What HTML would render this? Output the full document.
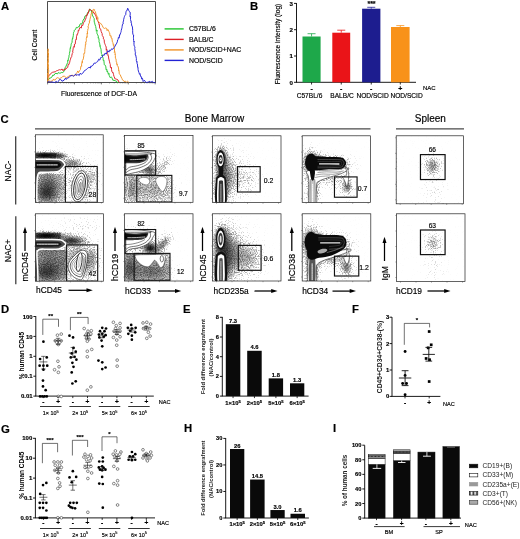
<!DOCTYPE html>
<html><head><meta charset="utf-8"><title>Figure</title>
<style>
html,body{margin:0;padding:0;background:#fff;}
svg{display:block;font-family:'Liberation Sans', Arial, sans-serif;}
text{stroke:#000;stroke-width:0.16px;}
</style></head><body>
<svg width="520" height="539" viewBox="0 0 520 539">
<rect width="520" height="539" fill="#fff"/>
<text x="1" y="9.5" font-size="11.3" text-anchor="start" font-weight="bold" fill="#000">A</text>
<rect x="47.6" y="1.6" width="107.8" height="81" fill="#fff" stroke="#222" stroke-width="0.8"/>
<path d="M47.62 80.11 L49.23 78.95 L49.91 77.77 L50.78 77.98 L51.91 76.97 L52.93 74.94 L53.85 75.47 L54.95 73.72 L55.87 73.35 L57.53 73.87 L58.27 72.57 L59.62 73.16 L61.08 72.93 L61.85 72.21 L62.76 72.74 L64.23 70.84 L64.58 70.67 L64.96 67.53 L65.93 66.82 L66.27 65.31 L66.61 65.43 L66.9 64.01 L67.69 62.72 L67.71 60.33 L68.07 60.9 L68.4 58.72 L68.42 57.95 L68.91 57.74 L69.04 55.05 L69.47 54.67 L69.28 54.08 L69.38 53.62 L70.03 50.9 L70.06 48.99 L70.4 47.52 L70.56 48.38 L70.59 47.53 L71 45.87 L71.15 44.17 L71.41 43.23 L72.04 42.79 L72.13 40.61 L72.45 38.3 L72.94 38.78 L72.74 38.1 L73.29 35.73 L73.44 33.56 L73.48 32.8 L74.22 31.34 L74.15 30.38 L74.62 30.25 L75.74 29.08 L76.31 27.34 L77.48 27.78 L78.08 26.77 L79.25 26.73 L79.86 24.3 L81.11 23.6 L81.53 24.33 L82.69 22.13 L83.08 20.07 L83.84 19.07 L84.26 18.9 L84.94 16.11 L85.62 15.97 L86.15 15.18 L86.86 15.39 L87.39 13.13 L87.58 12.53 L88.66 12.11 L89.24 11 L89.62 8.91 L90.31 9.93 L91.25 10.44 L91.92 12.86 L91.95 12.8 L92.35 14.36 L92.6 15.89 L93 16.1 L93.48 17.54 L94.16 18.49 L94.23 20.97 L94.28 22.45 L94.7 22.6 L94.84 24.07 L95.73 26.58 L95.66 26.68 L95.69 26.78 L96.09 28.65 L96.3 31.17 L97.14 30.08 L96.87 32.65 L97.08 33.85 L97.69 34.89 L98.27 36.13 L98.32 38.22 L98.34 37.7 L98.87 38.6 L99.12 40.78 L98.98 41.37 L99.76 43.87 L99.88 45.15 L100.08 46.21 L100.18 45.72 L100.09 47.24 L100.51 47.49 L101.04 49.29 L101.15 51.12 L101.41 53.55 L102.07 54.66 L101.93 55.87 L102.12 54.98 L102.39 56.08 L103.16 58.43 L103.16 60.19 L103.67 60.83 L103.86 60.4 L104.23 63.86 L104.31 64.58 L104.62 65.04 L105.33 65.3 L105.85 66.89 L106.08 69.83 L106.98 69.4 L106.95 71.46 L107.45 70.96 L108.42 74.28 L108.94 73.33 L109.23 75.47 L110.26 77.74 L111.11 76.91 L111.66 77.23 L113.03 80.5 L113.85 80.11 L115.3 80.77 L116.41 81.09 L117.11 82.43 L118.46 82.43" fill="none" stroke="#22c52e" stroke-width="0.95" stroke-linejoin="round"/>
<path d="M47.62 77.79 L48.28 75.94 L49.23 75.47 L50.21 74.06 L51.02 73.41 L52.28 72.36 L52.89 72.28 L53.85 72 L55.28 71.76 L56.44 70.85 L57.33 70.61 L58.13 70.21 L59.62 69.68 L60.55 69.9 L62.13 69.07 L63.08 70.84 L63.98 69.23 L64.96 70.07 L65.86 68.26 L66.97 68.21 L67.69 67.36 L68.12 65.1 L68.31 64.34 L68.85 64.64 L69.41 62.89 L69.58 62.71 L70 60.71 L70.52 59.27 L70.79 57.95 L71.46 56.86 L71.8 56.32 L71.76 55.83 L72.31 53.44 L72.9 52.45 L72.63 52.07 L73.13 48.91 L73.28 47.61 L73.87 46.46 L74.31 47.27 L74.48 44.36 L74.37 44.61 L75.23 44.07 L75.51 41.07 L75.47 40.4 L75.77 39.53 L76.38 39.73 L76.49 36.27 L76.81 36.09 L77.18 34.04 L77.36 34.35 L78.04 32.72 L78.34 30.07 L78.85 30.59 L79.23 29.09 L80.43 27.01 L81.29 28.15 L81.66 25.38 L82.69 25.61 L83.38 23.17 L83.42 22.65 L84.46 21.92 L84.5 21.86 L85.46 18.84 L85.8 18.85 L86.15 17.49 L86.34 15.19 L87.09 15.7 L87.94 12.83 L88.34 13.23 L88.87 10.54 L89.37 9.33 L89.62 9.38 L90.5 9.87 L91.91 10.76 L92.62 11.23 L93.05 11.57 L93.82 13.28 L94.46 13.1 L95.38 15.18 L95.67 15.08 L96.24 16.97 L96.72 19.38 L97.14 19.81 L97.52 20.55 L98.02 21.44 L98.85 23.29 L99.21 25.1 L99.49 24.75 L99.56 27.98 L100.12 28.82 L100.73 29.08 L100.83 29.95 L101.15 31.41 L101.83 33.09 L102.08 33.29 L102.29 35.46 L102.43 35.78 L102.63 35.97 L103.4 37.17 L103.34 38.85 L104.16 39.53 L104.39 42.88 L104.62 43.01 L104.75 43.56 L105.22 44.75 L105.52 45.53 L106.19 46.99 L106.22 50.12 L106.83 49.25 L106.72 50.59 L107.05 50.89 L107.45 53.37 L107.77 53.77 L108.08 55.76 L108.2 55.54 L108.58 56.94 L108.61 57.96 L109.05 59.86 L109.54 61.8 L109.92 63.42 L110.36 64.48 L110.26 64.73 L110.43 67.55 L111.06 67.98 L111.48 67.25 L111.54 69.68 L112.06 71.93 L112.62 72.65 L112.85 72.15 L113.5 74.33 L113.93 76.32 L114.41 76.87 L114.7 78.3 L115 78.95 L115.6 78.9 L116.75 79.32 L118 79.94 L118.78 81.9 L119.62 82.43" fill="none" stroke="#dc1f26" stroke-width="0.95" stroke-linejoin="round"/>
<path d="M47.85 82.43 L47.98 81.62 L47.52 80.08 L48.04 79.78 L47.9 77.8 L47.59 77.08 L47.72 76.13 L47.74 73.13 L47.71 73.79 L48.25 72.66 L47.84 70.82 L48.06 69.62 L48.02 69.26 L47.66 67.76 L47.79 65.22 L47.83 65.72 L47.64 64.07 L47.82 61.5 L48.12 62.04 L47.85 60.89 L47.98 59.29 L47.75 57.99 L47.81 58.02 L48.33 57.09 L48.01 53.26 L48.37 54.33 L47.89 52.14 L48.37 50.32 L48.13 49.16 L48.08 48.8 L48.11 48.97 L47.86 52.38 L48.13 53.17 L48.29 54.52 L48.44 53.85 L47.85 55.72 L48.19 55.54 L48.08 57.94 L48.12 58.24 L48.48 59.89 L48.44 60.17 L48.02 63.66 L48.45 65.07 L48.17 66.16 L48.26 65.84 L48.41 68.75 L48.32 68.13 L48.07 69.05 L48.63 69.73 L48.72 71.4 L48.27 72.46 L48.24 74.35 L48.79 75.12 L48.7 77.7 L48.79 78.16 L48.56 80.18 L48.54 80.11 L49.23 81.27 L50.07 81.45 L51.5 81.05 L52.79 80.67 L53.53 78.94 L54.74 80.29 L56.05 78.59 L57.47 77.67 L58.46 77.79 L59.45 78.97 L60.63 77.94 L61.85 77.52 L62.84 76.29 L64.51 76.26 L65.19 76.92 L66.88 77.91 L67.69 76.63 L68.6 76.3 L69.72 75.39 L70.87 75.61 L72.14 75.14 L73.73 75.86 L74.62 75.47 L75.38 75.34 L76.28 73.58 L76.98 72.65 L77.76 70.94 L78.48 72.64 L79.65 70.51 L80.38 69.68 L80.48 69.53 L80.79 66.72 L81.21 65.92 L81.78 66.3 L81.5 64.92 L82.26 61.42 L82.39 62.66 L82.35 60.64 L83.28 58.94 L83.52 58.99 L83.38 58.24 L83.85 55.76 L83.8 53.51 L84.36 53.5 L84.58 53.51 L84.8 51.53 L84.84 49.84 L85.2 47.52 L85.48 46.9 L85.25 46.89 L85.41 44.29 L85.91 44.54 L85.66 41.93 L86.15 41.85 L86.38 40.75 L86.29 39.22 L86.31 38.65 L86.79 36.66 L87.08 37.33 L87.13 35.96 L87.13 32.99 L87.61 33.85 L87.31 30.87 L87.92 30.25 L87.8 28.87 L88.43 28.4 L87.97 26.01 L88.46 25.61 L88.68 24 L88.81 23.8 L89.46 22.96 L89.37 20.99 L89.72 21.12 L89.94 19.54 L90.58 16.72 L90.99 15.76 L90.74 15.16 L91.23 14.02 L91.81 12.09 L92.81 12.16 L93.06 9.55 L93.77 9.38 L94.65 9.74 L94.57 10.7 L95.36 11.63 L96.25 15.12 L96.54 15.18 L97.27 16.98 L97.19 18.7 L97.99 17.78 L97.75 20.5 L98.38 21.43 L98.85 22.13 L99.6 22.65 L100.23 22.95 L101.34 24.13 L102.31 25.61 L103.2 27.65 L104.41 28.45 L105.77 27.93 L106.68 28.46 L107.11 30.68 L107.83 29.46 L108.83 31.29 L109.23 32.57 L109.69 32.87 L110.01 35.99 L111.11 35.8 L111.13 37.95 L112 38.37 L111.96 38.23 L112.36 41.86 L113.07 42.53 L112.9 42.56 L113.4 45.44 L113.73 44.66 L113.85 46.48 L113.88 47.13 L114.41 47.42 L114.52 51.12 L114.29 52.36 L114.79 51.54 L115.31 54.71 L115.02 54.29 L115.38 55.57 L115.36 58.11 L115.93 58.92 L116.15 60.14 L116.15 60.4 L116.32 61.86 L116.64 62.22 L116.73 64.66 L117.48 64.2 L117.29 65.49 L117.92 66.06 L118.51 68.03 L118.8 70.74 L118.46 70.18 L119.04 70.87 L119.29 73.74 L119.62 74.32 L120.25 74.74 L121.12 76.97 L121.93 78.48 L122.12 79.41 L123.08 80.11 L124.09 81.53 L125.3 81.23 L126.33 82.17 L127.52 81.27 L128.85 82.43" fill="none" stroke="#f09226" stroke-width="0.95" stroke-linejoin="round"/>
<path d="M47.62 82.43 L49.09 81.34 L49.91 82.39 L51.57 81.76 L52.25 81.94 L53.75 82.43 L54.57 82.43 L56.27 81.46 L57.54 82.35 L58.46 81.27 L59.47 79.56 L60.55 79.34 L61.98 81.28 L62.99 80.73 L64.2 80.12 L65.58 78 L66.27 79.47 L67.69 77.79 L68.93 77.68 L69.91 76.24 L70.95 75.64 L72.38 75.57 L73.26 76.28 L74.62 75.47 L75.65 73.92 L76.71 75.58 L77.87 74.37 L79.26 75.52 L80.11 73.29 L81.54 74.32 L82.5 73.1 L83.1 72.85 L84.44 70.6 L85.08 70.35 L86.15 69.68 L87.46 68.48 L88.18 67.83 L89.06 67.29 L90.45 68.04 L90.89 65.98 L91.88 66.34 L93.08 65.04 L94.28 62.97 L95.14 63.43 L96.11 62.69 L96.54 62.15 L97.69 61.56 L98.65 59.28 L99.82 60.1 L100.55 57.63 L101.39 57.49 L102.31 56.92 L103.08 55.01 L104.45 55.12 L105.07 53.05 L106.32 54.06 L106.92 52.28 L107.59 50.74 L109.1 52.12 L109.38 50.15 L110.54 50.69 L111.54 48.8 L112.78 49.35 L113.85 47.64 L114.3 47.39 L115.04 46.12 L116.16 43.9 L116.4 43.92 L117.31 41.85 L117.67 39.9 L118.09 39.58 L118.43 37.32 L119.31 37.83 L119.51 34.77 L119.58 35.6 L120.07 34.67 L120.77 32.57 L121.08 31.69 L121.19 30.6 L121.66 28.87 L121.99 27.72 L122.11 26.62 L122.51 24.29 L122.52 24.42 L123.18 24.03 L123.04 22.02 L123.54 20.97 L123.6 19.74 L124.15 17.62 L124.49 16.36 L124.54 16.36 L124.9 15.55 L125.71 14.67 L125.85 12.86 L126 11.73 L126.68 10.55 L126.98 10.63 L127.69 8.22 L128.65 10.37 L129.14 11.18 L129.54 11.7 L130.07 12 L130.26 13.99 L129.91 16.33 L130.64 17.14 L130.44 16.29 L130.51 19.37 L130.8 20.92 L131.15 20.97 L131.07 23.01 L131.77 23.3 L131.48 23.64 L131.69 25.63 L131.76 25.48 L132.44 26.99 L132.58 29.59 L132.67 29.33 L132.66 30.34 L132.71 32.95 L133.01 34.77 L133.4 35.11 L133.64 34.95 L133.46 37.21 L133.53 38.73 L133.59 40.36 L133.95 42.05 L134.22 41.46 L133.96 42.85 L134.01 44.84 L134.3 46.22 L134.95 46.87 L134.87 47.88 L134.56 48.28 L134.81 48.67 L135.15 51.45 L135.61 52.32 L135.29 52.42 L135.29 55.03 L135.77 55.76 L135.86 55.54 L136.05 56.99 L136.4 58.47 L136.33 60.65 L136.71 61.9 L137.23 61.7 L136.87 63.17 L137.4 63.91 L137.7 67.23 L137.53 67.08 L137.98 67.16 L138.08 69.68 L138.41 71.01 L138.9 72.4 L139.54 74.37 L140.09 73.62 L140.26 74.21 L140.49 76.37 L141.3 76.57 L141.54 78.95 L142.5 78.29 L143.14 81.57 L144.38 80.2 L145.33 81.76 L146.15 82.43 L147.08 82.43 L148.32 81.96 L149.88 81.26 L150.92 82.43 L152.16 81.2 L153.05 82.43 L154.2 82.43 L155.38 82.66" fill="none" stroke="#2222d4" stroke-width="0.95" stroke-linejoin="round"/>
<line x1="47.6" y1="82.6" x2="47.6" y2="84.4" stroke="#222" stroke-width="0.6"/>
<line x1="55.7" y1="82.6" x2="55.7" y2="83.6" stroke="#333" stroke-width="0.35"/>
<line x1="60.43" y1="82.6" x2="60.43" y2="83.6" stroke="#333" stroke-width="0.35"/>
<line x1="63.8" y1="82.6" x2="63.8" y2="83.6" stroke="#333" stroke-width="0.35"/>
<line x1="66.4" y1="82.6" x2="66.4" y2="83.6" stroke="#333" stroke-width="0.35"/>
<line x1="68.53" y1="82.6" x2="68.53" y2="83.6" stroke="#333" stroke-width="0.35"/>
<line x1="70.33" y1="82.6" x2="70.33" y2="83.6" stroke="#333" stroke-width="0.35"/>
<line x1="71.89" y1="82.6" x2="71.89" y2="83.6" stroke="#333" stroke-width="0.35"/>
<line x1="73.27" y1="82.6" x2="73.27" y2="83.6" stroke="#333" stroke-width="0.35"/>
<line x1="74.5" y1="82.6" x2="74.5" y2="84.4" stroke="#222" stroke-width="0.6"/>
<line x1="82.6" y1="82.6" x2="82.6" y2="83.6" stroke="#333" stroke-width="0.35"/>
<line x1="87.33" y1="82.6" x2="87.33" y2="83.6" stroke="#333" stroke-width="0.35"/>
<line x1="90.7" y1="82.6" x2="90.7" y2="83.6" stroke="#333" stroke-width="0.35"/>
<line x1="93.3" y1="82.6" x2="93.3" y2="83.6" stroke="#333" stroke-width="0.35"/>
<line x1="95.43" y1="82.6" x2="95.43" y2="83.6" stroke="#333" stroke-width="0.35"/>
<line x1="97.23" y1="82.6" x2="97.23" y2="83.6" stroke="#333" stroke-width="0.35"/>
<line x1="98.79" y1="82.6" x2="98.79" y2="83.6" stroke="#333" stroke-width="0.35"/>
<line x1="100.17" y1="82.6" x2="100.17" y2="83.6" stroke="#333" stroke-width="0.35"/>
<line x1="101.4" y1="82.6" x2="101.4" y2="84.4" stroke="#222" stroke-width="0.6"/>
<line x1="109.5" y1="82.6" x2="109.5" y2="83.6" stroke="#333" stroke-width="0.35"/>
<line x1="114.23" y1="82.6" x2="114.23" y2="83.6" stroke="#333" stroke-width="0.35"/>
<line x1="117.6" y1="82.6" x2="117.6" y2="83.6" stroke="#333" stroke-width="0.35"/>
<line x1="120.2" y1="82.6" x2="120.2" y2="83.6" stroke="#333" stroke-width="0.35"/>
<line x1="122.33" y1="82.6" x2="122.33" y2="83.6" stroke="#333" stroke-width="0.35"/>
<line x1="124.13" y1="82.6" x2="124.13" y2="83.6" stroke="#333" stroke-width="0.35"/>
<line x1="125.69" y1="82.6" x2="125.69" y2="83.6" stroke="#333" stroke-width="0.35"/>
<line x1="127.07" y1="82.6" x2="127.07" y2="83.6" stroke="#333" stroke-width="0.35"/>
<line x1="128.3" y1="82.6" x2="128.3" y2="84.4" stroke="#222" stroke-width="0.6"/>
<line x1="136.4" y1="82.6" x2="136.4" y2="83.6" stroke="#333" stroke-width="0.35"/>
<line x1="141.13" y1="82.6" x2="141.13" y2="83.6" stroke="#333" stroke-width="0.35"/>
<line x1="144.5" y1="82.6" x2="144.5" y2="83.6" stroke="#333" stroke-width="0.35"/>
<line x1="147.1" y1="82.6" x2="147.1" y2="83.6" stroke="#333" stroke-width="0.35"/>
<line x1="149.23" y1="82.6" x2="149.23" y2="83.6" stroke="#333" stroke-width="0.35"/>
<line x1="151.03" y1="82.6" x2="151.03" y2="83.6" stroke="#333" stroke-width="0.35"/>
<line x1="152.59" y1="82.6" x2="152.59" y2="83.6" stroke="#333" stroke-width="0.35"/>
<line x1="153.97" y1="82.6" x2="153.97" y2="83.6" stroke="#333" stroke-width="0.35"/>
<line x1="155.2" y1="82.6" x2="155.2" y2="84.4" stroke="#222" stroke-width="0.6"/>
<text x="34.8" y="45" font-size="6.6" text-anchor="middle" font-weight="normal" fill="#000" transform="rotate(-90 34.8 45)" dy="2.2">Cell Count</text>
<text x="99" y="96.3" font-size="6.8" text-anchor="middle" font-weight="normal" fill="#000">Fluorescence of DCF-DA</text>
<line x1="164.6" y1="28.9" x2="183.7" y2="28.9" stroke="#22c52e" stroke-width="1.4"/>
<text x="189" y="31.3" font-size="6.9" text-anchor="start" font-weight="normal" fill="#000">C57BL/6</text>
<line x1="164.6" y1="39.4" x2="183.7" y2="39.4" stroke="#dc1f26" stroke-width="1.4"/>
<text x="189" y="41.8" font-size="6.9" text-anchor="start" font-weight="normal" fill="#000">BALB/C</text>
<line x1="164.6" y1="49.9" x2="183.7" y2="49.9" stroke="#f09226" stroke-width="1.4"/>
<text x="189" y="52.3" font-size="6.9" text-anchor="start" font-weight="normal" fill="#000">NOD/SCID+NAC</text>
<line x1="164.6" y1="60.4" x2="183.7" y2="60.4" stroke="#2222d4" stroke-width="1.4"/>
<text x="189" y="62.8" font-size="6.9" text-anchor="start" font-weight="normal" fill="#000">NOD/SCID</text>
<text x="250" y="9.5" font-size="11.3" text-anchor="start" font-weight="bold" fill="#000">B</text>
<line x1="296.5" y1="3.1" x2="296.5" y2="82.3" stroke="#000" stroke-width="0.9"/>
<line x1="296.05" y1="82.3" x2="416" y2="82.3" stroke="#000" stroke-width="0.9"/>
<line x1="294" y1="82.3" x2="296.5" y2="82.3" stroke="#000" stroke-width="0.9"/>
<text x="292.9" y="84.5" font-size="6.2" text-anchor="end" font-weight="bold" fill="#000">0</text>
<line x1="294" y1="56" x2="296.5" y2="56" stroke="#000" stroke-width="0.9"/>
<text x="292.9" y="58.2" font-size="6.2" text-anchor="end" font-weight="bold" fill="#000">1</text>
<line x1="294" y1="29.7" x2="296.5" y2="29.7" stroke="#000" stroke-width="0.9"/>
<text x="292.9" y="31.9" font-size="6.2" text-anchor="end" font-weight="bold" fill="#000">2</text>
<line x1="294" y1="3.4" x2="296.5" y2="3.4" stroke="#000" stroke-width="0.9"/>
<text x="292.9" y="5.6" font-size="6.2" text-anchor="end" font-weight="bold" fill="#000">3</text>
<rect x="302.5" y="36.5" width="18.1" height="45.8" fill="#1ea84a" stroke="none" stroke-width="0.8"/>
<line x1="311.55" y1="36.5" x2="311.55" y2="33.7" stroke="#1ea84a" stroke-width="0.8"/>
<line x1="307.55" y1="33.7" x2="315.55" y2="33.7" stroke="#1ea84a" stroke-width="0.8"/>
<line x1="311.55" y1="82.3" x2="311.55" y2="84.5" stroke="#000" stroke-width="0.8"/>
<text x="311.55" y="91.2" font-size="7" text-anchor="middle" font-weight="bold" fill="#000">-</text>
<rect x="332.3" y="32.7" width="17.9" height="49.6" fill="#ea1418" stroke="none" stroke-width="0.8"/>
<line x1="341.25" y1="32.7" x2="341.25" y2="30.2" stroke="#ea1418" stroke-width="0.8"/>
<line x1="337.25" y1="30.2" x2="345.25" y2="30.2" stroke="#ea1418" stroke-width="0.8"/>
<line x1="341.25" y1="82.3" x2="341.25" y2="84.5" stroke="#000" stroke-width="0.8"/>
<text x="341.25" y="91.2" font-size="7" text-anchor="middle" font-weight="bold" fill="#000">-</text>
<rect x="362.1" y="8.7" width="18.3" height="73.6" fill="#1d1d8f" stroke="none" stroke-width="0.8"/>
<line x1="371.25" y1="8.7" x2="371.25" y2="7.3" stroke="#1d1d8f" stroke-width="0.8"/>
<line x1="367.25" y1="7.3" x2="375.25" y2="7.3" stroke="#1d1d8f" stroke-width="0.8"/>
<line x1="371.25" y1="82.3" x2="371.25" y2="84.5" stroke="#000" stroke-width="0.8"/>
<text x="371.25" y="91.2" font-size="7" text-anchor="middle" font-weight="bold" fill="#000">-</text>
<rect x="391" y="27" width="18.6" height="55.3" fill="#f8921a" stroke="none" stroke-width="0.8"/>
<line x1="400.3" y1="27" x2="400.3" y2="25.6" stroke="#f8921a" stroke-width="0.8"/>
<line x1="396.3" y1="25.6" x2="404.3" y2="25.6" stroke="#f8921a" stroke-width="0.8"/>
<line x1="400.3" y1="82.3" x2="400.3" y2="84.5" stroke="#000" stroke-width="0.8"/>
<text x="400.3" y="91.4" font-size="7" text-anchor="middle" font-weight="bold" fill="#000">+</text>
<text x="309.5" y="97.8" font-size="6.6" text-anchor="middle" font-weight="normal" fill="#000">C57BL/6</text>
<text x="342" y="97.8" font-size="6.6" text-anchor="middle" font-weight="normal" fill="#000">BALB/C</text>
<text x="372.6" y="97.8" font-size="6.6" text-anchor="middle" font-weight="normal" fill="#000">NOD/SCID</text>
<text x="406.6" y="97.8" font-size="6.6" text-anchor="middle" font-weight="normal" fill="#000">NOD/SCID</text>
<text x="423" y="90.2" font-size="6" text-anchor="start" font-weight="normal" fill="#000">NAC</text>
<text x="371.5" y="6.2" font-size="7" text-anchor="middle" font-weight="bold" fill="#000">***</text>
<text x="277.5" y="44" font-size="6.6" text-anchor="middle" font-weight="normal" fill="#000" transform="rotate(-90 277.5 44)" dy="2.2">Fluorescence intensity (log)</text>
<text x="0.5" y="122.5" font-size="11.3" text-anchor="start" font-weight="bold" fill="#000">C</text>
<line x1="35" y1="128.8" x2="370.5" y2="128.8" stroke="#4a4a4a" stroke-width="1.25"/>
<line x1="396" y1="128.8" x2="464" y2="128.8" stroke="#4a4a4a" stroke-width="1.25"/>
<text x="214.5" y="121.6" font-size="10" text-anchor="middle" font-weight="normal" fill="#000">Bone Marrow</text>
<text x="430.3" y="122.2" font-size="10" text-anchor="middle" font-weight="normal" fill="#000">Spleen</text>
<line x1="15.7" y1="136.2" x2="15.7" y2="204.5" stroke="#3a3a3a" stroke-width="1.25"/>
<line x1="15.8" y1="216.3" x2="15.8" y2="284.2" stroke="#3a3a3a" stroke-width="1.25"/>
<text x="8.6" y="171" font-size="8.5" text-anchor="middle" font-weight="normal" fill="#000" transform="rotate(-90 8.6 171)" dy="2.9">NAC-</text>
<text x="8.3" y="250.8" font-size="8.5" text-anchor="middle" font-weight="normal" fill="#000" transform="rotate(-90 8.3 250.8)" dy="2.9">NAC+</text>
<defs><radialGradient id="rg"><stop offset="0" stop-color="#000" stop-opacity="1"/><stop offset="0.2" stop-color="#000" stop-opacity="0.87"/><stop offset="0.4" stop-color="#000" stop-opacity="0.58"/><stop offset="0.6" stop-color="#000" stop-opacity="0.3"/><stop offset="0.8" stop-color="#000" stop-opacity="0.11"/><stop offset="1" stop-color="#000" stop-opacity="0"/></radialGradient></defs>
<clipPath id="c1"><rect x="35.4" y="134.8" width="67.8" height="67.6"/></clipPath>
<rect x="35.4" y="134.8" width="67.8" height="67.6" fill="#fff" stroke="none" stroke-width="0.8"/>
<g clip-path="url(#c1)">
<filter id="spk1" filterUnits="userSpaceOnUse" x="35.4" y="134.8" width="67.8" height="67.6" color-interpolation-filters="sRGB"><feTurbulence type="fractalNoise" baseFrequency="0.87" numOctaves="2" seed="1" result="n"/><feColorMatrix in="n" type="matrix" values="0 0 0 0 0 0 0 0 0 0 0 0 0 0 0 2.6 0 0 0 -0.78" result="na"/><feComposite in="SourceGraphic" in2="na" operator="arithmetic" k1="0.8" k2="1.0" k3="-0.8" k4="0"/><feGaussianBlur stdDeviation="0.6"/></filter>
<g filter="url(#spk1)">
<rect x="35.4" y="134.8" width="67.8" height="67.6" fill="#000" stroke="none" stroke-width="0.8" opacity="0"/>
<rect x="35.38" y="134.62" width="67.69" height="67.69" fill="#000" opacity="0.02"/>
<rect x="35.85" y="173.85" width="29.54" height="28.46" fill="#000" opacity="0.3"/>
<rect x="35.85" y="152.77" width="20.31" height="6.15" fill="#000" opacity="0.5"/>
<ellipse cx="59.23" cy="155.85" rx="12" ry="5.6" transform="rotate(0 59.23 155.85)" fill="url(#rg)" opacity="0.6"/>
<ellipse cx="45.38" cy="155.38" rx="30" ry="6" transform="rotate(0 45.38 155.38)" fill="url(#rg)" opacity="1.2"/>
<ellipse cx="48.46" cy="166.15" rx="32" ry="22" transform="rotate(0 48.46 166.15)" fill="url(#rg)" opacity="0.4"/>
<ellipse cx="48.46" cy="182.31" rx="24" ry="18" transform="rotate(0 48.46 182.31)" fill="url(#rg)" opacity="0.45"/>
<ellipse cx="46.92" cy="193.08" rx="24" ry="20" transform="rotate(0 46.92 193.08)" fill="url(#rg)" opacity="0.8"/>
<ellipse cx="71.54" cy="163.08" rx="20" ry="10" transform="rotate(0 71.54 163.08)" fill="url(#rg)" opacity="0.6"/>
<ellipse cx="81.54" cy="185.38" rx="24" ry="34" transform="rotate(0 81.54 185.38)" fill="url(#rg)" opacity="0.6"/>
<ellipse cx="93.08" cy="174.62" rx="10" ry="16" transform="rotate(0 93.08 174.62)" fill="url(#rg)" opacity="0.3"/>
</g>
<path d="M20.77 159.23 C22.56 150.77 27.44 159.23 31.54 159.23 C35.64 159.23 40.9 159.18 45.38 159.23 C49.87 159.28 55.59 159.18 58.46 159.54 C61.33 159.9 61.56 160.51 62.62 161.38 C63.67 162.26 64.87 163.59 64.77 164.77 C64.67 165.95 63.13 167.33 62 168.46 C60.87 169.59 60.26 170.92 58 171.54 C55.74 172.15 51.44 172.03 48.46 172.15 C45.49 172.28 41.9 171.95 40.15 172.31 C38.41 172.67 38.51 172.9 38 174.31 C37.49 175.72 37.28 176.74 37.08 180.77 C36.87 184.79 36.82 193.59 36.77 198.46 C36.72 203.33 39.44 208.08 36.77 210 C34.1 211.92 23.44 218.46 20.77 210 C18.1 201.54 18.97 167.69 20.77 159.23 Z" fill="#4a4a4a" stroke="#fff" stroke-width="1.5"/>
<path d="M20.77 161.69 C22.56 160.62 27.44 161.69 31.54 161.69 C35.64 161.69 41.13 161.67 45.38 161.69 C49.64 161.72 54.64 161.62 57.08 161.85 C59.51 162.08 59.31 162.59 60 163.08 C60.69 163.56 61.23 164.18 61.23 164.77 C61.23 165.36 60.69 166.08 60 166.62 C59.31 167.15 59.51 167.74 57.08 168 C54.64 168.26 49.64 168.13 45.38 168.15 C41.13 168.18 35.64 168.15 31.54 168.15 C27.44 168.15 22.56 169.23 20.77 168.15 C18.97 167.08 18.97 162.77 20.77 161.69 Z" fill="#0c0c0c" stroke="none" stroke-width="0.5"/>
<path d="M36.77 164.92 C40.26 164.92 54.21 164.92 57.69 164.92" fill="none" stroke="#fff" stroke-width="1"/>
<ellipse cx="79.54" cy="186.31" rx="7.69" ry="15.85" transform="rotate(10 79.54 186.31)" fill="#fff" stroke="#000" stroke-width="0.55"/>
<ellipse cx="79.54" cy="186.31" rx="5.54" ry="13.54" transform="rotate(10 79.54 186.31)" fill="#fff" stroke="#000" stroke-width="0.8"/>
<ellipse cx="79.63" cy="186.69" rx="4" ry="10.77" transform="rotate(10 79.63 186.69)" fill="#fff" stroke="#2a2a2a" stroke-width="0.5"/>
<ellipse cx="79.72" cy="187.08" rx="2.46" ry="8" transform="rotate(10 79.72 187.08)" fill="#fff" stroke="#2a2a2a" stroke-width="0.5"/>
<ellipse cx="79.82" cy="187.46" rx="0.92" ry="5.23" transform="rotate(10 79.82 187.46)" fill="#ddd" stroke="#2a2a2a" stroke-width="0.5"/>
<rect x="65.38" y="166.46" width="31.85" height="35.85" fill="none" stroke="#111" stroke-width="1.1"/>
<text x="92.46" y="196.95" font-size="6.9" text-anchor="middle" font-weight="normal" fill="#000">28</text>
</g>
<rect x="35.4" y="134.8" width="67.8" height="67.6" fill="none" stroke="#222" stroke-width="0.7"/>
<line x1="39.4" y1="202.4" x2="39.4" y2="203.6" stroke="#333" stroke-width="0.4"/>
<line x1="34.2" y1="198.4" x2="35.4" y2="198.4" stroke="#333" stroke-width="0.4"/>
<line x1="54.9" y1="202.4" x2="54.9" y2="203.6" stroke="#333" stroke-width="0.4"/>
<line x1="34.2" y1="182.9" x2="35.4" y2="182.9" stroke="#333" stroke-width="0.4"/>
<line x1="70.4" y1="202.4" x2="70.4" y2="203.6" stroke="#333" stroke-width="0.4"/>
<line x1="34.2" y1="167.4" x2="35.4" y2="167.4" stroke="#333" stroke-width="0.4"/>
<line x1="85.9" y1="202.4" x2="85.9" y2="203.6" stroke="#333" stroke-width="0.4"/>
<line x1="34.2" y1="151.9" x2="35.4" y2="151.9" stroke="#333" stroke-width="0.4"/>
<line x1="101.4" y1="202.4" x2="101.4" y2="203.6" stroke="#333" stroke-width="0.4"/>
<line x1="34.2" y1="136.4" x2="35.4" y2="136.4" stroke="#333" stroke-width="0.4"/>
<clipPath id="c2"><rect x="35.4" y="213.8" width="68" height="67.4"/></clipPath>
<rect x="35.4" y="213.8" width="68" height="67.4" fill="#fff" stroke="none" stroke-width="0.8"/>
<g clip-path="url(#c2)">
<filter id="spk2" filterUnits="userSpaceOnUse" x="35.4" y="213.8" width="68" height="67.4" color-interpolation-filters="sRGB"><feTurbulence type="fractalNoise" baseFrequency="0.87" numOctaves="2" seed="2" result="n"/><feColorMatrix in="n" type="matrix" values="0 0 0 0 0 0 0 0 0 0 0 0 0 0 0 2.6 0 0 0 -0.78" result="na"/><feComposite in="SourceGraphic" in2="na" operator="arithmetic" k1="0.8" k2="1.0" k3="-0.8" k4="0"/><feGaussianBlur stdDeviation="0.6"/></filter>
<g filter="url(#spk2)">
<rect x="35.4" y="213.8" width="68" height="67.4" fill="#000" stroke="none" stroke-width="0.8" opacity="0"/>
<rect x="35.38" y="213.85" width="68" height="67.23" fill="#000" opacity="0.03"/>
<rect x="35.85" y="249.85" width="30.46" height="31.23" fill="#000" opacity="0.42"/>
<rect x="35.85" y="232.62" width="24.92" height="6.62" fill="#000" opacity="0.5"/>
<ellipse cx="46.15" cy="235.69" rx="32" ry="7.2" transform="rotate(0 46.15 235.69)" fill="url(#rg)" opacity="1.2"/>
<ellipse cx="71.54" cy="240.62" rx="24" ry="8.8" transform="rotate(0 71.54 240.62)" fill="url(#rg)" opacity="0.85"/>
<ellipse cx="50" cy="246.46" rx="34" ry="20" transform="rotate(0 50 246.46)" fill="url(#rg)" opacity="0.4"/>
<ellipse cx="50" cy="261.85" rx="32" ry="22" transform="rotate(0 50 261.85)" fill="url(#rg)" opacity="0.4"/>
<ellipse cx="46.92" cy="272.62" rx="30" ry="18" transform="rotate(0 46.92 272.62)" fill="url(#rg)" opacity="0.7"/>
<ellipse cx="80.77" cy="261.85" rx="26" ry="34" transform="rotate(0 80.77 261.85)" fill="url(#rg)" opacity="0.75"/>
<ellipse cx="93.08" cy="257.23" rx="10" ry="22" transform="rotate(0 93.08 257.23)" fill="url(#rg)" opacity="0.35"/>
<ellipse cx="80.77" cy="226.46" rx="32" ry="16" transform="rotate(0 80.77 226.46)" fill="url(#rg)" opacity="0.15"/>
</g>
<path d="M20.77 239.54 C22.56 231.46 27.44 239.54 31.54 239.54 C35.64 239.54 40.77 239.51 45.38 239.54 C50 239.56 56.28 239.41 59.23 239.69 C62.18 239.97 61.97 240.49 63.08 241.23 C64.18 241.97 65.87 243.18 65.85 244.15 C65.82 245.13 64.1 246.28 62.92 247.08 C61.74 247.87 61.18 248.56 58.77 248.92 C56.36 249.28 51.56 249.18 48.46 249.23 C45.36 249.28 41.95 248.92 40.15 249.23 C38.36 249.54 38.23 250.26 37.69 251.08 C37.15 251.9 37.08 248 36.92 254.15 C36.77 260.31 39.46 282.36 36.77 288 C34.08 293.64 23.44 296.08 20.77 288 C18.1 279.92 18.97 247.62 20.77 239.54 Z" fill="#4a4a4a" stroke="#fff" stroke-width="1.5"/>
<path d="M20.77 241.69 C22.56 240.85 27.44 241.69 31.54 241.69 C35.64 241.69 41.08 241.67 45.38 241.69 C49.69 241.72 54.92 241.64 57.38 241.85 C59.85 242.05 59.46 242.54 60.15 242.92 C60.85 243.31 61.54 243.72 61.54 244.15 C61.54 244.59 60.85 245.13 60.15 245.54 C59.46 245.95 59.85 246.41 57.38 246.62 C54.92 246.82 49.69 246.74 45.38 246.77 C41.08 246.79 35.64 246.77 31.54 246.77 C27.44 246.77 22.56 247.62 20.77 246.77 C18.97 245.92 18.97 242.54 20.77 241.69 Z" fill="#181818" stroke="none" stroke-width="0.5"/>
<path d="M36.77 244.15 C40.38 244.15 54.85 244.15 58.46 244.15" fill="none" stroke="#fff" stroke-width="1"/>
<path d="M84 250.31 C85.33 250.82 87 251.85 87.38 254.46 C87.77 257.08 87 262.28 86.31 266 C85.62 269.72 84.21 274.46 83.23 276.77 C82.26 279.08 82.26 279.97 80.46 279.85 C78.67 279.72 74.49 277.92 72.46 276 C70.44 274.08 68.87 270.62 68.31 268.31 C67.74 266 68.13 264.21 69.08 262.15 C70.03 260.1 72.28 257.79 74 256 C75.72 254.21 77.72 252.33 79.38 251.38 C81.05 250.44 82.67 249.79 84 250.31 Z" fill="#fff" stroke="#000" stroke-width="0.55"/>
<path d="M82.98 253.23 C84.05 253.64 85.38 254.46 85.69 256.55 C86 258.65 85.38 262.81 84.83 265.78 C84.28 268.76 83.15 272.55 82.37 274.4 C81.59 276.25 81.59 276.96 80.15 276.86 C78.72 276.76 75.37 275.32 73.75 273.78 C72.13 272.25 70.88 269.48 70.43 267.63 C69.98 265.78 70.29 264.35 71.05 262.71 C71.81 261.07 73.61 259.22 74.98 257.78 C76.36 256.35 77.96 254.85 79.29 254.09 C80.63 253.33 81.92 252.82 82.98 253.23 Z" fill="#fff" stroke="#000" stroke-width="0.65"/>
<path d="M82.17 255.57 C83.03 255.9 84.09 256.55 84.34 258.23 C84.58 259.9 84.09 263.23 83.65 265.61 C83.21 267.99 82.3 271.03 81.68 272.5 C81.06 273.98 81.06 274.56 79.91 274.47 C78.76 274.39 76.08 273.24 74.79 272.01 C73.49 270.78 72.49 268.57 72.13 267.09 C71.77 265.61 72.01 264.46 72.62 263.15 C73.23 261.84 74.67 260.36 75.77 259.21 C76.87 258.06 78.15 256.87 79.22 256.26 C80.29 255.65 81.32 255.24 82.17 255.57 Z" fill="#fff" stroke="#333" stroke-width="0.45"/>
<path d="M81.82 257.29 C82.46 257.54 83.26 258.03 83.45 259.29 C83.63 260.54 83.26 263.04 82.93 264.82 C82.6 266.61 81.92 268.89 81.45 269.99 C80.98 271.1 80.98 271.53 80.12 271.47 C79.26 271.41 77.26 270.55 76.28 269.62 C75.31 268.7 74.56 267.04 74.29 265.93 C74.02 264.82 74.2 263.96 74.66 262.98 C75.11 261.99 76.2 260.89 77.02 260.02 C77.85 259.16 78.81 258.26 79.61 257.81 C80.41 257.35 81.18 257.05 81.82 257.29 Z" fill="#fff" stroke="#333" stroke-width="0.45"/>
<ellipse cx="79.23" cy="262.15" rx="2.62" ry="9.54" transform="rotate(8 79.23 262.15)" fill="#fff" stroke="#111" stroke-width="0.8"/>
<ellipse cx="79.23" cy="262.15" rx="0.77" ry="5.38" transform="rotate(8 79.23 262.15)" fill="#fff" stroke="#555" stroke-width="0.3"/>
<rect x="66.62" y="244.92" width="31.08" height="36.15" fill="none" stroke="#111" stroke-width="1.1"/>
<text x="92.46" y="276.33" font-size="6.9" text-anchor="middle" font-weight="normal" fill="#000">42</text>
</g>
<rect x="35.4" y="213.8" width="68" height="67.4" fill="none" stroke="#222" stroke-width="0.7"/>
<line x1="39.4" y1="281.2" x2="39.4" y2="282.4" stroke="#333" stroke-width="0.4"/>
<line x1="34.2" y1="277.2" x2="35.4" y2="277.2" stroke="#333" stroke-width="0.4"/>
<line x1="54.9" y1="281.2" x2="54.9" y2="282.4" stroke="#333" stroke-width="0.4"/>
<line x1="34.2" y1="261.7" x2="35.4" y2="261.7" stroke="#333" stroke-width="0.4"/>
<line x1="70.4" y1="281.2" x2="70.4" y2="282.4" stroke="#333" stroke-width="0.4"/>
<line x1="34.2" y1="246.2" x2="35.4" y2="246.2" stroke="#333" stroke-width="0.4"/>
<line x1="85.9" y1="281.2" x2="85.9" y2="282.4" stroke="#333" stroke-width="0.4"/>
<line x1="34.2" y1="230.7" x2="35.4" y2="230.7" stroke="#333" stroke-width="0.4"/>
<line x1="101.4" y1="281.2" x2="101.4" y2="282.4" stroke="#333" stroke-width="0.4"/>
<line x1="34.2" y1="215.2" x2="35.4" y2="215.2" stroke="#333" stroke-width="0.4"/>
<clipPath id="c3"><rect x="124.5" y="135.4" width="68.5" height="66.9"/></clipPath>
<rect x="124.5" y="135.4" width="68.5" height="66.9" fill="#fff" stroke="none" stroke-width="0.8"/>
<g clip-path="url(#c3)">
<filter id="spk3" filterUnits="userSpaceOnUse" x="124.5" y="135.4" width="68.5" height="66.9" color-interpolation-filters="sRGB"><feTurbulence type="fractalNoise" baseFrequency="0.87" numOctaves="2" seed="3" result="n"/><feColorMatrix in="n" type="matrix" values="0 0 0 0 0 0 0 0 0 0 0 0 0 0 0 2.6 0 0 0 -0.78" result="na"/><feComposite in="SourceGraphic" in2="na" operator="arithmetic" k1="0.8" k2="1.0" k3="-0.8" k4="0"/><feGaussianBlur stdDeviation="0.6"/></filter>
<g filter="url(#spk3)">
<rect x="124.5" y="135.4" width="68.5" height="66.9" fill="#000" stroke="none" stroke-width="0.8" opacity="0"/>
<rect x="124.46" y="135.38" width="68.46" height="66.92" fill="#000" opacity="0.01"/>
<rect x="124.46" y="175.38" width="47.38" height="26.92" fill="#000" opacity="0.3"/>
<ellipse cx="149.54" cy="170.31" rx="12.8" ry="9.6" transform="rotate(0 149.54 170.31)" fill="url(#rg)" opacity="0.72"/>
<ellipse cx="130.31" cy="188.46" rx="18" ry="24" transform="rotate(0 130.31 188.46)" fill="url(#rg)" opacity="0.4"/>
<ellipse cx="153.38" cy="189.23" rx="36" ry="22" transform="rotate(0 153.38 189.23)" fill="url(#rg)" opacity="0.35"/>
<ellipse cx="164.15" cy="165.38" rx="8.8" ry="20" transform="rotate(35 164.15 165.38)" fill="url(#rg)" opacity="0.42"/>
<ellipse cx="138" cy="163.08" rx="32" ry="22" transform="rotate(0 138 163.08)" fill="url(#rg)" opacity="0.5"/>
</g>
<path d="M121.08 153.08 C126.41 149.49 147.54 152.31 153.08 153.38 C158.62 154.46 155 157.36 154.31 159.54 C153.62 161.72 151.23 164.54 148.92 166.46 C146.62 168.38 143.41 169.92 140.46 171.08 C137.51 172.23 133.54 172.82 131.23 173.38 C128.92 173.95 128.31 174.21 126.62 174.46 C124.92 174.72 122 178.49 121.08 174.92 C120.15 171.36 115.74 156.67 121.08 153.08 Z" fill="#fff" stroke="#000" stroke-width="0.55"/>
<path d="M121.08 154 C125.82 154 144.64 153.95 149.54 154 C154.44 154.05 150.13 153.51 150.46 154.31 C150.79 155.1 152.05 157.13 151.54 158.77 C151.03 160.41 149.49 162.62 147.38 164.15 C145.28 165.69 141.74 167.05 138.92 168 C136.1 168.95 132.59 169.08 130.46 169.85 C128.33 170.62 126.87 172.15 126.15 172.62" fill="none" stroke="#000" stroke-width="0.55"/>
<path d="M147.38 154.62 C147.51 155.18 148.54 156.67 148.15 158 C147.77 159.33 146.87 161.33 145.08 162.62 C143.28 163.9 139.95 164.92 137.38 165.69 C134.82 166.46 131.62 166.46 129.69 167.23 C127.77 168 126.49 169.79 125.85 170.31" fill="none" stroke="#000" stroke-width="0.55"/>
<path d="M121.08 154.77 C123.64 153.64 132.15 155.31 136.46 155.23 C140.77 155.15 145.05 153.95 146.92 154.31 C148.79 154.67 147.95 156.31 147.69 157.38 C147.44 158.46 146.74 159.85 145.38 160.77 C144.03 161.69 142.05 162.51 139.54 162.92 C137.03 163.33 133.38 163.38 130.31 163.23 C127.23 163.08 122.62 163.41 121.08 162 C119.54 160.59 118.51 155.9 121.08 154.77 Z" fill="#3a3a3a" stroke="none" stroke-width="0.5"/>
<path d="M121.08 155.85 C123.64 155.13 132.36 156.69 136.46 156.62 C140.56 156.54 144.08 155.18 145.69 155.38 C147.31 155.59 146.54 157.05 146.15 157.85 C145.77 158.64 145 159.54 143.38 160.15 C141.77 160.77 140.18 161.41 136.46 161.54 C132.74 161.67 123.64 161.87 121.08 160.92 C118.51 159.97 118.51 156.56 121.08 155.85 Z" fill="#0a0a0a" stroke="none" stroke-width="0.5"/>
<path d="M129.69 159.69 C130.82 159.67 133.9 159.67 136.46 159.54 C139.03 159.41 143.64 159.03 145.08 158.92" fill="none" stroke="#fff" stroke-width="0.7"/>
<path d="M125.69 154.62 C125.69 158 125.69 171.54 125.69 174.92" fill="none" stroke="#000" stroke-width="0.9"/>
<path d="M138.77 179.54 C138.97 178.56 141.08 177.59 142.62 177.38 C144.15 177.18 146.82 177.54 148 178.31 C149.18 179.08 149.87 180.9 149.69 182 C149.51 183.1 148.31 184.72 146.92 184.92 C145.54 185.13 142.74 184.13 141.38 183.23 C140.03 182.33 138.56 180.51 138.77 179.54 Z" fill="#fff" stroke="#222" stroke-width="0.45"/>
<path d="M155.85 179.54 C156.26 178.46 157.38 177.23 158.77 176.77 C160.15 176.31 162.79 176.21 164.15 176.77 C165.51 177.33 166.64 178.46 166.92 180.15 C167.21 181.85 166.56 185.03 165.85 186.92 C165.13 188.82 163.77 191.41 162.62 191.54 C161.46 191.67 159.97 189.08 158.92 187.69 C157.87 186.31 156.82 184.59 156.31 183.23 C155.79 181.87 155.44 180.62 155.85 179.54 Z" fill="#fff" stroke="#222" stroke-width="0.45"/>
<path d="M127.23 176.15 C127.49 177.44 128.77 180.77 128.77 183.85 C128.77 186.92 127.1 191.67 127.23 194.62 C127.36 197.56 129.15 200.38 129.54 201.54" fill="none" stroke="#fff" stroke-width="0.8"/>
<rect x="124.46" y="150.77" width="31.23" height="24.31" fill="none" stroke="#111" stroke-width="1.1"/>
<rect x="136.77" y="175.38" width="35.08" height="26.62" fill="none" stroke="#111" stroke-width="1.1"/>
<text x="141.08" y="147.69" font-size="6.4" text-anchor="middle" font-weight="normal" fill="#000">85</text>
<text x="183.38" y="195.69" font-size="6.4" text-anchor="middle" font-weight="normal" fill="#000">9.7</text>
</g>
<rect x="124.5" y="135.4" width="68.5" height="66.9" fill="none" stroke="#222" stroke-width="0.7"/>
<line x1="128.5" y1="202.3" x2="128.5" y2="203.5" stroke="#333" stroke-width="0.4"/>
<line x1="123.3" y1="198.3" x2="124.5" y2="198.3" stroke="#333" stroke-width="0.4"/>
<line x1="144" y1="202.3" x2="144" y2="203.5" stroke="#333" stroke-width="0.4"/>
<line x1="123.3" y1="182.8" x2="124.5" y2="182.8" stroke="#333" stroke-width="0.4"/>
<line x1="159.5" y1="202.3" x2="159.5" y2="203.5" stroke="#333" stroke-width="0.4"/>
<line x1="123.3" y1="167.3" x2="124.5" y2="167.3" stroke="#333" stroke-width="0.4"/>
<line x1="175" y1="202.3" x2="175" y2="203.5" stroke="#333" stroke-width="0.4"/>
<line x1="123.3" y1="151.8" x2="124.5" y2="151.8" stroke="#333" stroke-width="0.4"/>
<line x1="190.5" y1="202.3" x2="190.5" y2="203.5" stroke="#333" stroke-width="0.4"/>
<line x1="123.3" y1="136.3" x2="124.5" y2="136.3" stroke="#333" stroke-width="0.4"/>
<clipPath id="c4"><rect x="124.5" y="213.8" width="68.5" height="67.2"/></clipPath>
<rect x="124.5" y="213.8" width="68.5" height="67.2" fill="#fff" stroke="none" stroke-width="0.8"/>
<g clip-path="url(#c4)">
<filter id="spk4" filterUnits="userSpaceOnUse" x="124.5" y="213.8" width="68.5" height="67.2" color-interpolation-filters="sRGB"><feTurbulence type="fractalNoise" baseFrequency="0.87" numOctaves="2" seed="4" result="n"/><feColorMatrix in="n" type="matrix" values="0 0 0 0 0 0 0 0 0 0 0 0 0 0 0 2.6 0 0 0 -0.78" result="na"/><feComposite in="SourceGraphic" in2="na" operator="arithmetic" k1="0.8" k2="1.0" k3="-0.8" k4="0"/><feGaussianBlur stdDeviation="0.6"/></filter>
<g filter="url(#spk4)">
<rect x="124.5" y="213.8" width="68.5" height="67.2" fill="#000" stroke="none" stroke-width="0.8" opacity="0"/>
<rect x="124.46" y="213.85" width="68.46" height="67.23" fill="#000" opacity="0.01"/>
<rect x="124.46" y="253.69" width="45.54" height="26.92" fill="#000" opacity="0.45"/>
<ellipse cx="150.31" cy="248.31" rx="13.6" ry="10.4" transform="rotate(0 150.31 248.31)" fill="url(#rg)" opacity="0.95"/>
<ellipse cx="129.54" cy="268" rx="16.8" ry="26" transform="rotate(0 129.54 268)" fill="url(#rg)" opacity="0.55"/>
<ellipse cx="151.85" cy="271.08" rx="34" ry="18" transform="rotate(0 151.85 271.08)" fill="url(#rg)" opacity="0.5"/>
<ellipse cx="163.38" cy="244.15" rx="10" ry="22" transform="rotate(35 163.38 244.15)" fill="url(#rg)" opacity="0.62"/>
<ellipse cx="138" cy="241.08" rx="32" ry="22" transform="rotate(0 138 241.08)" fill="url(#rg)" opacity="0.5"/>
</g>
<path d="M121.08 231.38 C126.31 227.74 147.18 230.67 152.46 231.69 C157.74 232.72 153.54 235.54 152.77 237.54 C152 239.54 150.1 242.03 147.85 243.69 C145.59 245.36 142.21 246.62 139.23 247.54 C136.26 248.46 132.18 248.54 130 249.23 C127.82 249.92 127.64 250.97 126.15 251.69 C124.67 252.41 121.92 256.92 121.08 253.54 C120.23 250.15 115.85 235.03 121.08 231.38 Z" fill="#fff" stroke="#000" stroke-width="0.55"/>
<path d="M121.08 232.31 C125.69 232.31 143.95 232.26 148.77 232.31 C153.59 232.36 149.74 231.85 150 232.62 C150.26 233.38 150.97 235.33 150.31 236.92 C149.64 238.51 148.05 240.69 146 242.15 C143.95 243.62 140.72 244.87 138 245.69 C135.28 246.51 131.72 246.44 129.69 247.08 C127.67 247.72 126.49 249.13 125.85 249.54" fill="none" stroke="#000" stroke-width="0.55"/>
<path d="M121.08 244.31 C122.62 244.31 127.23 244.67 130.31 244.31 C133.38 243.95 137.1 242.95 139.54 242.15 C141.97 241.36 144.03 239.97 144.92 239.54" fill="none" stroke="#111" stroke-width="0.5"/>
<path d="M121.08 233.08 C123.64 232.08 132.1 233.62 136.46 233.54 C140.82 233.46 145.36 232.31 147.23 232.62 C149.1 232.92 148.05 234.46 147.69 235.38 C147.33 236.31 146.44 237.41 145.08 238.15 C143.72 238.9 142 239.51 139.54 239.85 C137.08 240.18 133.38 240.21 130.31 240.15 C127.23 240.1 122.62 240.72 121.08 239.54 C119.54 238.36 118.51 234.08 121.08 233.08 Z" fill="#3a3a3a" stroke="none" stroke-width="0.5"/>
<path d="M121.08 234 C123.64 233.38 132.31 234.82 136.46 234.77 C140.62 234.72 144.36 233.54 146 233.69 C147.64 233.85 146.74 235.05 146.31 235.69 C145.87 236.33 145.03 237.05 143.38 237.54 C141.74 238.03 140.18 238.46 136.46 238.62 C132.74 238.77 123.64 239.23 121.08 238.46 C118.51 237.69 118.51 234.62 121.08 234 Z" fill="#0a0a0a" stroke="none" stroke-width="0.5"/>
<path d="M127.38 237.69 C128.9 237.67 133.51 237.67 136.46 237.54 C139.41 237.41 143.64 237.03 145.08 236.92" fill="none" stroke="#fff" stroke-width="0.7"/>
<path d="M125.69 232.62 C125.69 236.1 125.69 250.05 125.69 253.54" fill="none" stroke="#000" stroke-width="0.9"/>
<path d="M136.15 255.08 C138.36 254.59 144.15 254.67 148.77 254.62 C153.38 254.56 161.13 254.08 163.85 254.77 C166.56 255.46 165.13 257.03 165.08 258.77 C165.03 260.51 164.31 263.79 163.54 265.23 C162.77 266.67 161.59 267.9 160.46 267.38 C159.33 266.87 157.77 263.33 156.77 262.15 C155.77 260.97 155.18 260.21 154.46 260.31 C153.74 260.41 153.41 261.72 152.46 262.77 C151.51 263.82 150.28 266.1 148.77 266.62 C147.26 267.13 145.18 266.64 143.38 265.85 C141.59 265.05 139.31 263.23 138 261.85 C136.69 260.46 135.85 258.67 135.54 257.54 C135.23 256.41 133.95 255.56 136.15 255.08 Z" fill="#fff" stroke="#222" stroke-width="0.45"/>
<ellipse cx="161.85" cy="258.77" rx="1.69" ry="3.23" transform="rotate(0 161.85 258.77)" fill="#fff" stroke="#111" stroke-width="0.55"/>
<rect x="124.46" y="229.54" width="31.23" height="24.15" fill="none" stroke="#111" stroke-width="1.1"/>
<rect x="134.15" y="253.38" width="35.85" height="26.92" fill="none" stroke="#111" stroke-width="1.1"/>
<text x="141.08" y="226.46" font-size="6.4" text-anchor="middle" font-weight="normal" fill="#000">82</text>
<text x="180.62" y="273.84" font-size="6.4" text-anchor="middle" font-weight="normal" fill="#000">12</text>
</g>
<rect x="124.5" y="213.8" width="68.5" height="67.2" fill="none" stroke="#222" stroke-width="0.7"/>
<line x1="128.5" y1="281" x2="128.5" y2="282.2" stroke="#333" stroke-width="0.4"/>
<line x1="123.3" y1="277" x2="124.5" y2="277" stroke="#333" stroke-width="0.4"/>
<line x1="144" y1="281" x2="144" y2="282.2" stroke="#333" stroke-width="0.4"/>
<line x1="123.3" y1="261.5" x2="124.5" y2="261.5" stroke="#333" stroke-width="0.4"/>
<line x1="159.5" y1="281" x2="159.5" y2="282.2" stroke="#333" stroke-width="0.4"/>
<line x1="123.3" y1="246" x2="124.5" y2="246" stroke="#333" stroke-width="0.4"/>
<line x1="175" y1="281" x2="175" y2="282.2" stroke="#333" stroke-width="0.4"/>
<line x1="123.3" y1="230.5" x2="124.5" y2="230.5" stroke="#333" stroke-width="0.4"/>
<line x1="190.5" y1="281" x2="190.5" y2="282.2" stroke="#333" stroke-width="0.4"/>
<line x1="123.3" y1="215" x2="124.5" y2="215" stroke="#333" stroke-width="0.4"/>
<clipPath id="c5"><rect x="212.5" y="135.8" width="68.5" height="66.8"/></clipPath>
<rect x="212.5" y="135.8" width="68.5" height="66.8" fill="#fff" stroke="none" stroke-width="0.8"/>
<g clip-path="url(#c5)">
<filter id="spk5" filterUnits="userSpaceOnUse" x="212.5" y="135.8" width="68.5" height="66.8" color-interpolation-filters="sRGB"><feTurbulence type="fractalNoise" baseFrequency="0.87" numOctaves="2" seed="5" result="n"/><feColorMatrix in="n" type="matrix" values="0 0 0 0 0 0 0 0 0 0 0 0 0 0 0 2.6 0 0 0 -0.78" result="na"/><feComposite in="SourceGraphic" in2="na" operator="arithmetic" k1="0.8" k2="1.0" k3="-0.8" k4="0"/><feGaussianBlur stdDeviation="0.6"/></filter>
<g filter="url(#spk5)">
<rect x="212.5" y="135.8" width="68.5" height="66.8" fill="#000" stroke="none" stroke-width="0.8" opacity="0"/>
<rect x="212.46" y="135.85" width="68.46" height="66.77" fill="#000" opacity="0.01"/>
<ellipse cx="220.92" cy="159.23" rx="10.4" ry="20" transform="rotate(0 220.92 159.23)" fill="url(#rg)" opacity="1.2"/>
<ellipse cx="220.92" cy="191.54" rx="11.2" ry="34" transform="rotate(0 220.92 191.54)" fill="url(#rg)" opacity="1.2"/>
<ellipse cx="225.23" cy="176.15" rx="18" ry="44" transform="rotate(0 225.23 176.15)" fill="url(#rg)" opacity="0.55"/>
<ellipse cx="235.23" cy="176.15" rx="28" ry="36" transform="rotate(0 235.23 176.15)" fill="url(#rg)" opacity="0.3"/>
<ellipse cx="249.08" cy="179.23" rx="20" ry="20" transform="rotate(0 249.08 179.23)" fill="url(#rg)" opacity="0.22"/>
</g>
<ellipse cx="220.62" cy="159.23" rx="4.15" ry="9.23" transform="rotate(0 220.62 159.23)" fill="#111" stroke="none" stroke-width="0.5"/>
<path d="M215.85 204.15 C214.15 200.26 215.59 185.44 215.85 180.77 C216.1 176.1 216.54 177.26 217.38 176.15 C218.23 175.05 219.74 174.15 220.92 174.15 C222.1 174.15 223.62 175.05 224.46 176.15 C225.31 177.26 225.74 176.1 226 180.77 C226.26 185.44 227.69 200.26 226 204.15 C224.31 208.05 217.54 208.05 215.85 204.15 Z" fill="#111" stroke="none" stroke-width="0.5"/>
<path d="M218.92 166.92 C219.54 165.38 222.31 165.38 222.92 166.92 C223.54 168.46 223.23 174.62 222.62 176.15 C222 177.69 219.85 177.69 219.23 176.15 C218.62 174.62 218.31 168.46 218.92 166.92 Z" fill="#111" stroke="none" stroke-width="0.5"/>
<ellipse cx="220.62" cy="159.38" rx="2.92" ry="6.92" transform="rotate(0 220.62 159.38)" fill="#fff" stroke="none" stroke-width="0.5"/>
<ellipse cx="220.62" cy="159.38" rx="2" ry="4.46" transform="rotate(0 220.62 159.38)" fill="#222" stroke="none" stroke-width="0.5"/>
<ellipse cx="220.62" cy="159.38" rx="1.15" ry="2.15" transform="rotate(0 220.62 159.38)" fill="#fff" stroke="none" stroke-width="0.5"/>
<ellipse cx="220.62" cy="159.38" rx="0.38" ry="0.62" transform="rotate(0 220.62 159.38)" fill="#333" stroke="none" stroke-width="0.5"/>
<path d="M217.54 204.15 C216.38 200.31 217.33 185.44 217.54 181.08 C217.74 176.72 218.21 178.69 218.77 178 C219.33 177.31 220.21 176.92 220.92 176.92 C221.64 176.92 222.49 177.31 223.08 178 C223.67 178.69 224.23 176.72 224.46 181.08 C224.69 185.44 225.62 200.31 224.46 204.15 C223.31 208 218.69 208 217.54 204.15 Z" fill="#fff" stroke="none" stroke-width="0.5"/>
<path d="M218.92 204.15 C218.23 200.56 218.77 186.51 218.92 182.62 C219.08 178.72 219.49 181.18 219.85 180.77 C220.21 180.36 220.67 180.15 221.08 180.15 C221.49 180.15 221.97 180.36 222.31 180.77 C222.64 181.18 222.95 178.72 223.08 182.62 C223.21 186.51 223.77 200.56 223.08 204.15 C222.38 207.74 219.62 207.74 218.92 204.15 Z" fill="#333" stroke="none" stroke-width="0.5"/>
<path d="M220.92 183.85 C220.92 186.92 220.92 199.23 220.92 202.31" fill="none" stroke="#fff" stroke-width="0.6"/>
<rect x="237.54" y="166.62" width="22.62" height="25.38" fill="none" stroke="#111" stroke-width="1.15"/>
<text x="268.46" y="182.95" font-size="6.9" text-anchor="middle" font-weight="normal" fill="#000">0.2</text>
</g>
<rect x="212.5" y="135.8" width="68.5" height="66.8" fill="none" stroke="#222" stroke-width="0.7"/>
<line x1="216.5" y1="202.6" x2="216.5" y2="203.8" stroke="#333" stroke-width="0.4"/>
<line x1="211.3" y1="198.6" x2="212.5" y2="198.6" stroke="#333" stroke-width="0.4"/>
<line x1="232" y1="202.6" x2="232" y2="203.8" stroke="#333" stroke-width="0.4"/>
<line x1="211.3" y1="183.1" x2="212.5" y2="183.1" stroke="#333" stroke-width="0.4"/>
<line x1="247.5" y1="202.6" x2="247.5" y2="203.8" stroke="#333" stroke-width="0.4"/>
<line x1="211.3" y1="167.6" x2="212.5" y2="167.6" stroke="#333" stroke-width="0.4"/>
<line x1="263" y1="202.6" x2="263" y2="203.8" stroke="#333" stroke-width="0.4"/>
<line x1="211.3" y1="152.1" x2="212.5" y2="152.1" stroke="#333" stroke-width="0.4"/>
<line x1="278.5" y1="202.6" x2="278.5" y2="203.8" stroke="#333" stroke-width="0.4"/>
<line x1="211.3" y1="136.6" x2="212.5" y2="136.6" stroke="#333" stroke-width="0.4"/>
<clipPath id="c6"><rect x="212.5" y="213.8" width="68.5" height="67.2"/></clipPath>
<rect x="212.5" y="213.8" width="68.5" height="67.2" fill="#fff" stroke="none" stroke-width="0.8"/>
<g clip-path="url(#c6)">
<filter id="spk6" filterUnits="userSpaceOnUse" x="212.5" y="213.8" width="68.5" height="67.2" color-interpolation-filters="sRGB"><feTurbulence type="fractalNoise" baseFrequency="0.87" numOctaves="2" seed="6" result="n"/><feColorMatrix in="n" type="matrix" values="0 0 0 0 0 0 0 0 0 0 0 0 0 0 0 2.6 0 0 0 -0.78" result="na"/><feComposite in="SourceGraphic" in2="na" operator="arithmetic" k1="0.8" k2="1.0" k3="-0.8" k4="0"/><feGaussianBlur stdDeviation="0.6"/></filter>
<g filter="url(#spk6)">
<rect x="212.5" y="213.8" width="68.5" height="67.2" fill="#000" stroke="none" stroke-width="0.8" opacity="0"/>
<rect x="212.46" y="213.85" width="68.46" height="67.23" fill="#000" opacity="0.01"/>
<ellipse cx="220.92" cy="238.77" rx="12" ry="22" transform="rotate(0 220.92 238.77)" fill="url(#rg)" opacity="1.2"/>
<ellipse cx="220.92" cy="269.54" rx="12" ry="34" transform="rotate(0 220.92 269.54)" fill="url(#rg)" opacity="1.2"/>
<ellipse cx="226.77" cy="254.15" rx="22" ry="48" transform="rotate(0 226.77 254.15)" fill="url(#rg)" opacity="0.7"/>
<ellipse cx="238.31" cy="255.69" rx="36" ry="40" transform="rotate(0 238.31 255.69)" fill="url(#rg)" opacity="0.42"/>
<ellipse cx="250.62" cy="258.77" rx="22" ry="24" transform="rotate(0 250.62 258.77)" fill="url(#rg)" opacity="0.35"/>
</g>
<ellipse cx="220.62" cy="238.77" rx="4.62" ry="11.08" transform="rotate(0 220.62 238.77)" fill="#111" stroke="none" stroke-width="0.5"/>
<path d="M215.54 282.15 C213.74 278.13 215.23 262.77 215.54 258 C215.85 253.23 216.49 254.59 217.38 253.54 C218.28 252.49 219.74 251.69 220.92 251.69 C222.1 251.69 223.56 252.49 224.46 253.54 C225.36 254.59 226 253.23 226.31 258 C226.62 262.77 228.1 278.13 226.31 282.15 C224.51 286.18 217.33 286.18 215.54 282.15 Z" fill="#111" stroke="none" stroke-width="0.5"/>
<ellipse cx="220.62" cy="239.08" rx="3.23" ry="8.62" transform="rotate(0 220.62 239.08)" fill="#fff" stroke="none" stroke-width="0.5"/>
<ellipse cx="220.62" cy="239.08" rx="2.23" ry="6.31" transform="rotate(0 220.62 239.08)" fill="#3a3a3a" stroke="none" stroke-width="0.5"/>
<ellipse cx="220.62" cy="239.08" rx="0.92" ry="3.69" transform="rotate(0 220.62 239.08)" fill="#ddd" stroke="none" stroke-width="0.5"/>
<path d="M217.69 282.15 C216.59 278.18 217.49 262.77 217.69 258.31 C217.9 253.85 218.36 256.05 218.92 255.38 C219.49 254.72 220.38 254.31 221.08 254.31 C221.77 254.31 222.54 254.72 223.08 255.38 C223.62 256.05 224.1 253.85 224.31 258.31 C224.51 262.77 225.41 278.18 224.31 282.15 C223.21 286.13 218.79 286.13 217.69 282.15 Z" fill="#fff" stroke="none" stroke-width="0.5"/>
<path d="M219.23 282.15 C218.64 278.56 219.08 264.56 219.23 260.62 C219.38 256.67 219.85 258.92 220.15 258.46 C220.46 258 220.77 257.85 221.08 257.85 C221.38 257.85 221.72 258 222 258.46 C222.28 258.92 222.64 256.67 222.77 260.62 C222.9 264.56 223.36 278.56 222.77 282.15 C222.18 285.74 219.82 285.74 219.23 282.15 Z" fill="#555" stroke="none" stroke-width="0.5"/>
<path d="M220.92 261.08 C220.92 264.28 220.92 277.1 220.92 280.31" fill="none" stroke="#fff" stroke-width="0.6"/>
<rect x="238.31" y="245.38" width="22.77" height="24.92" fill="none" stroke="#111" stroke-width="1.15"/>
<text x="268.46" y="260.95" font-size="6.9" text-anchor="middle" font-weight="normal" fill="#000">0.6</text>
</g>
<rect x="212.5" y="213.8" width="68.5" height="67.2" fill="none" stroke="#222" stroke-width="0.7"/>
<line x1="216.5" y1="281" x2="216.5" y2="282.2" stroke="#333" stroke-width="0.4"/>
<line x1="211.3" y1="277" x2="212.5" y2="277" stroke="#333" stroke-width="0.4"/>
<line x1="232" y1="281" x2="232" y2="282.2" stroke="#333" stroke-width="0.4"/>
<line x1="211.3" y1="261.5" x2="212.5" y2="261.5" stroke="#333" stroke-width="0.4"/>
<line x1="247.5" y1="281" x2="247.5" y2="282.2" stroke="#333" stroke-width="0.4"/>
<line x1="211.3" y1="246" x2="212.5" y2="246" stroke="#333" stroke-width="0.4"/>
<line x1="263" y1="281" x2="263" y2="282.2" stroke="#333" stroke-width="0.4"/>
<line x1="211.3" y1="230.5" x2="212.5" y2="230.5" stroke="#333" stroke-width="0.4"/>
<line x1="278.5" y1="281" x2="278.5" y2="282.2" stroke="#333" stroke-width="0.4"/>
<line x1="211.3" y1="215" x2="212.5" y2="215" stroke="#333" stroke-width="0.4"/>
<clipPath id="c7"><rect x="302.2" y="135.8" width="68.4" height="66.8"/></clipPath>
<rect x="302.2" y="135.8" width="68.4" height="66.8" fill="#fff" stroke="none" stroke-width="0.8"/>
<g clip-path="url(#c7)">
<filter id="spk7" filterUnits="userSpaceOnUse" x="302.2" y="135.8" width="68.4" height="66.8" color-interpolation-filters="sRGB"><feTurbulence type="fractalNoise" baseFrequency="0.87" numOctaves="2" seed="7" result="n"/><feColorMatrix in="n" type="matrix" values="0 0 0 0 0 0 0 0 0 0 0 0 0 0 0 2.6 0 0 0 -0.78" result="na"/><feComposite in="SourceGraphic" in2="na" operator="arithmetic" k1="0.8" k2="1.0" k3="-0.8" k4="0"/><feGaussianBlur stdDeviation="0.6"/></filter>
<g filter="url(#spk7)">
<rect x="302.2" y="135.8" width="68.4" height="66.8" fill="#000" stroke="none" stroke-width="0.8" opacity="0"/>
<rect x="302.15" y="135.85" width="68.46" height="66.77" fill="#000" opacity="0.01"/>
<ellipse cx="311.38" cy="163.08" rx="16.8" ry="23.2" transform="rotate(0 311.38 163.08)" fill="url(#rg)" opacity="0.9"/>
<ellipse cx="331.38" cy="163.54" rx="32" ry="14.4" transform="rotate(0 331.38 163.54)" fill="url(#rg)" opacity="0.85"/>
<ellipse cx="312.62" cy="191.54" rx="11.2" ry="30" transform="rotate(0 312.62 191.54)" fill="url(#rg)" opacity="0.75"/>
<ellipse cx="326.77" cy="177.69" rx="32" ry="14" transform="rotate(0 326.77 177.69)" fill="url(#rg)" opacity="0.45"/>
<ellipse cx="347.54" cy="186.15" rx="8" ry="11.2" transform="rotate(0 347.54 186.15)" fill="url(#rg)" opacity="0.6"/>
<ellipse cx="345.23" cy="188.46" rx="18" ry="18" transform="rotate(0 345.23 188.46)" fill="url(#rg)" opacity="0.3"/>
</g>
<path d="M316 168.46 C322.56 167.9 340.92 167.85 346.15 168.15 C351.38 168.46 348.31 169.36 347.38 170.31 C346.46 171.26 342.9 172.9 340.62 173.85 C338.33 174.79 336.26 175.21 333.69 176 C331.13 176.79 327.64 177.77 325.23 178.62 C322.82 179.46 320.67 180.05 319.23 181.08 C317.79 182.1 317.1 180.92 316.62 184.77 C316.13 188.62 317.59 200.92 316.31 204.15 C315.03 207.38 310.15 207.38 308.92 204.15 C307.69 200.92 309.03 189.44 308.92 184.77 C308.82 180.1 308.67 178.36 308.31 176.15 C307.95 173.95 305.49 172.82 306.77 171.54 C308.05 170.26 309.44 169.03 316 168.46 Z" fill="#fff" stroke="#111" stroke-width="0.55"/>
<path d="M319.08 170.62 C320.36 170.56 322.92 170.51 326.77 170.31 C330.62 170.1 339.59 169.54 342.15 169.38" fill="none" stroke="#222" stroke-width="0.45"/>
<path d="M317.54 172.46 C319.08 172.36 323.69 171.9 326.77 171.85 C329.85 171.79 333.18 172.31 336 172.15 C338.82 172 342.41 171.13 343.69 170.92" fill="none" stroke="#222" stroke-width="0.45"/>
<path d="M315.69 174.92 C317.03 174.77 320.82 174.1 323.69 174 C326.56 173.9 330.1 174.51 332.92 174.31 C335.74 174.1 339.33 173.03 340.62 172.77" fill="none" stroke="#333" stroke-width="0.45"/>
<path d="M314.46 177.69 C315.49 177.49 318.05 176.77 320.62 176.46 C323.18 176.15 328.31 175.95 329.85 175.85" fill="none" stroke="#333" stroke-width="0.45"/>
<path d="M310.15 204.15 C309.33 200.77 310 188.05 310.15 183.85 C310.31 179.64 310.41 179.74 311.08 178.92 C311.74 178.1 313.49 178.1 314.15 178.92 C314.82 179.74 314.92 179.64 315.08 183.85 C315.23 188.05 315.9 200.77 315.08 204.15 C314.26 207.54 310.97 207.54 310.15 204.15 Z" fill="#c4c4c4" stroke="#444" stroke-width="0.45"/>
<path d="M312.62 183.85 C312.62 186.92 312.62 199.23 312.62 202.31" fill="none" stroke="#fff" stroke-width="1"/>
<ellipse cx="311.08" cy="162.62" rx="6" ry="9.08" transform="rotate(0 311.08 162.62)" fill="#0a0a0a" stroke="none" stroke-width="0.5"/>
<path d="M310.15 170.31 C310.72 168.77 314.15 168.77 314.77 170.31 C315.38 171.85 314.41 178 313.85 179.54 C313.28 181.08 312 181.08 311.38 179.54 C310.77 178 309.59 171.85 310.15 170.31 Z" fill="#0a0a0a" stroke="none" stroke-width="0.5"/>
<path d="M311.38 157.38 C313.95 155.28 321.9 157.08 326.77 157.08 C331.64 157.08 337.69 157.03 340.62 157.38 C343.54 157.74 343.38 158.31 344.31 159.23 C345.23 160.15 346.15 161.64 346.15 162.92 C346.15 164.21 345.36 165.9 344.31 166.92 C343.26 167.95 342.77 168.67 339.85 169.08 C336.92 169.49 331.51 169.28 326.77 169.38 C322.03 169.49 313.95 171.69 311.38 169.69 C308.82 167.69 308.82 159.49 311.38 157.38 Z" fill="#0a0a0a" stroke="none" stroke-width="0.5"/>
<path d="M319.08 163.85 C322.46 163.87 336 163.97 339.38 164" fill="none" stroke="#e8e8e8" stroke-width="1.3"/>
<path d="M317.54 159.54 C321.26 159.56 335.59 159.41 339.85 159.69 C344.1 159.97 342.38 160.67 343.08 161.23 C343.77 161.79 344 162.44 344 163.08 C344 163.72 343.77 164.38 343.08 165.08 C342.38 165.77 344.1 166.77 339.85 167.23 C335.59 167.69 321.26 167.74 317.54 167.85" fill="none" stroke="#8a8a8a" stroke-width="0.45"/>
<path d="M317.54 161.38 C321.13 161.41 335.08 161.26 339.08 161.54 C343.08 161.82 341.54 162.38 341.54 163.08 C341.54 163.77 343.08 165.15 339.08 165.69 C335.08 166.23 321.13 166.21 317.54 166.31" fill="none" stroke="#666" stroke-width="0.4"/>
<path d="M345.54 166.31 C345.74 165.85 347.46 168.67 348 170.31 C348.54 171.95 348.77 174.03 348.77 176.15 C348.77 178.28 348.31 181.23 348 183.08 C347.69 184.92 347.33 187.23 346.92 187.23 C346.51 187.23 346.08 184.46 345.54 183.08 C345 181.69 344.26 179.95 343.69 178.92 C343.13 177.9 341.85 177.38 342.15 176.92 C342.46 176.46 344.77 176.79 345.54 176.15 C346.31 175.51 346.77 174.72 346.77 173.08 C346.77 171.44 345.33 166.77 345.54 166.31 Z" fill="#fff" stroke="#000" stroke-width="0.5"/>
<rect x="334.46" y="176.92" width="22.62" height="20.31" fill="none" stroke="#111" stroke-width="1.15"/>
<text x="362.46" y="190.64" font-size="6.9" text-anchor="middle" font-weight="normal" fill="#000">0.7</text>
</g>
<rect x="302.2" y="135.8" width="68.4" height="66.8" fill="none" stroke="#222" stroke-width="0.7"/>
<line x1="306.2" y1="202.6" x2="306.2" y2="203.8" stroke="#333" stroke-width="0.4"/>
<line x1="301" y1="198.6" x2="302.2" y2="198.6" stroke="#333" stroke-width="0.4"/>
<line x1="321.7" y1="202.6" x2="321.7" y2="203.8" stroke="#333" stroke-width="0.4"/>
<line x1="301" y1="183.1" x2="302.2" y2="183.1" stroke="#333" stroke-width="0.4"/>
<line x1="337.2" y1="202.6" x2="337.2" y2="203.8" stroke="#333" stroke-width="0.4"/>
<line x1="301" y1="167.6" x2="302.2" y2="167.6" stroke="#333" stroke-width="0.4"/>
<line x1="352.7" y1="202.6" x2="352.7" y2="203.8" stroke="#333" stroke-width="0.4"/>
<line x1="301" y1="152.1" x2="302.2" y2="152.1" stroke="#333" stroke-width="0.4"/>
<line x1="368.2" y1="202.6" x2="368.2" y2="203.8" stroke="#333" stroke-width="0.4"/>
<line x1="301" y1="136.6" x2="302.2" y2="136.6" stroke="#333" stroke-width="0.4"/>
<clipPath id="c8"><rect x="302.2" y="213.8" width="68.6" height="67.2"/></clipPath>
<rect x="302.2" y="213.8" width="68.6" height="67.2" fill="#fff" stroke="none" stroke-width="0.8"/>
<g clip-path="url(#c8)">
<filter id="spk8" filterUnits="userSpaceOnUse" x="302.2" y="213.8" width="68.6" height="67.2" color-interpolation-filters="sRGB"><feTurbulence type="fractalNoise" baseFrequency="0.87" numOctaves="2" seed="8" result="n"/><feColorMatrix in="n" type="matrix" values="0 0 0 0 0 0 0 0 0 0 0 0 0 0 0 2.6 0 0 0 -0.78" result="na"/><feComposite in="SourceGraphic" in2="na" operator="arithmetic" k1="0.8" k2="1.0" k3="-0.8" k4="0"/><feGaussianBlur stdDeviation="0.6"/></filter>
<g filter="url(#spk8)">
<rect x="302.2" y="213.8" width="68.6" height="67.2" fill="#000" stroke="none" stroke-width="0.8" opacity="0"/>
<rect x="302.15" y="213.85" width="68.77" height="67.23" fill="#000" opacity="0.01"/>
<ellipse cx="311.38" cy="242.62" rx="18" ry="27.2" transform="rotate(0 311.38 242.62)" fill="url(#rg)" opacity="0.95"/>
<ellipse cx="331.38" cy="244.62" rx="32.8" ry="16.8" transform="rotate(0 331.38 244.62)" fill="url(#rg)" opacity="0.9"/>
<ellipse cx="312.15" cy="271.08" rx="12" ry="30" transform="rotate(0 312.15 271.08)" fill="url(#rg)" opacity="0.95"/>
<ellipse cx="328.31" cy="258.77" rx="32" ry="14" transform="rotate(0 328.31 258.77)" fill="url(#rg)" opacity="0.5"/>
<ellipse cx="346.77" cy="268" rx="8.8" ry="12.8" transform="rotate(0 346.77 268)" fill="url(#rg)" opacity="0.55"/>
<ellipse cx="345.23" cy="266.46" rx="20" ry="20" transform="rotate(0 345.23 266.46)" fill="url(#rg)" opacity="0.3"/>
</g>
<path d="M319.08 254.15 C325.18 253.33 343 249.69 348 249.23 C353 248.77 351 250.21 349.08 251.38 C347.15 252.56 340.64 254.82 336.46 256.31 C332.28 257.79 327.15 259.03 324 260.31 C320.85 261.59 318.82 262.59 317.54 264 C316.26 265.41 316.56 265.74 316.31 268.77 C316.05 271.79 317.38 279.92 316 282.15 C314.62 284.38 309.33 284.26 308 282.15 C306.67 280.05 307.95 273.44 308 269.54 C308.05 265.64 307.74 261.33 308.31 258.77 C308.87 256.21 309.59 254.92 311.38 254.15 C313.18 253.38 312.97 254.97 319.08 254.15 Z" fill="#fff" stroke="#111" stroke-width="0.55"/>
<path d="M309.23 282.15 C308.26 278.77 309.08 265.74 309.23 261.85 C309.38 257.95 309.28 259.28 310.15 258.77 C311.03 258.26 313.59 258.26 314.46 258.77 C315.33 259.28 315.28 257.95 315.38 261.85 C315.49 265.74 316.1 278.77 315.08 282.15 C314.05 285.54 310.21 285.54 309.23 282.15 Z" fill="#555" stroke="none" stroke-width="0.5"/>
<path d="M312.15 263.38 C312.15 266.21 312.15 277.49 312.15 280.31" fill="none" stroke="#eee" stroke-width="1"/>
<ellipse cx="311.08" cy="242.15" rx="6.46" ry="10.46" transform="rotate(0 311.08 242.15)" fill="#0a0a0a" stroke="none" stroke-width="0.5"/>
<path d="M311.38 235.38 C314.67 232.21 321.9 235.08 326.77 235.08 C331.64 235.08 337.64 234.97 340.62 235.38 C343.59 235.79 343.64 236.51 344.62 237.54 C345.59 238.56 346.31 240.05 346.46 241.54 C346.62 243.03 346.38 244.97 345.54 246.46 C344.69 247.95 343.69 248.97 341.38 250.46 C339.08 251.95 335.41 254.15 331.69 255.38 C327.97 256.62 322.46 257.13 319.08 257.85 C315.69 258.56 313.38 260.31 311.38 259.69 C309.38 259.08 307.08 258.21 307.08 254.15 C307.08 250.1 308.1 238.56 311.38 235.38 Z" fill="#0a0a0a" stroke="none" stroke-width="0.5"/>
<path d="M320.15 242.92 C323.51 242.92 336.95 242.92 340.31 242.92" fill="none" stroke="#e8e8e8" stroke-width="1.2"/>
<path d="M318.31 237.85 C321.97 237.87 336.13 237.69 340.31 238 C344.49 238.31 342.72 239 343.38 239.69 C344.05 240.38 344.36 241.18 344.31 242.15 C344.26 243.13 343.95 244.51 343.08 245.54 C342.21 246.56 341.41 247.69 339.08 248.31 C336.74 248.92 330.74 249.08 329.08 249.23" fill="none" stroke="#8a8a8a" stroke-width="0.45"/>
<path d="M318.31 240 C321.87 240.03 335.74 239.79 339.69 240.15 C343.64 240.51 342.05 241.31 342 242.15 C341.95 243 341.54 244.51 339.38 245.23 C337.23 245.95 330.79 246.26 329.08 246.46" fill="none" stroke="#666" stroke-width="0.4"/>
<path d="M317.54 251.38 C317.79 250.67 319.49 249.64 320.92 249.23 C322.36 248.82 325.1 248.69 326.15 248.92 C327.21 249.15 327.56 249.97 327.23 250.62 C326.9 251.26 325.46 252.28 324.15 252.77 C322.85 253.26 320.49 253.77 319.38 253.54 C318.28 253.31 317.28 252.1 317.54 251.38 Z" fill="#aaa" stroke="none" stroke-width="0.5"/>
<path d="M326.77 252.62 C328.31 252.15 333.18 250.82 336 249.85 C338.82 248.87 342.41 247.28 343.69 246.77" fill="none" stroke="#999" stroke-width="0.6"/>
<path d="M346.15 248.31 C346.41 248.03 348.08 250.41 348.62 251.85 C349.15 253.28 349.44 255.21 349.38 256.92 C349.33 258.64 348.74 260.97 348.31 262.15 C347.87 263.33 347.33 264.18 346.77 264 C346.21 263.82 345.44 262.21 344.92 261.08 C344.41 259.95 343.54 258.03 343.69 257.23 C343.85 256.44 345.28 256.92 345.85 256.31 C346.41 255.69 347.03 254.87 347.08 253.54 C347.13 252.21 345.9 248.59 346.15 248.31 Z" fill="#fff" stroke="#000" stroke-width="0.5"/>
<rect x="334.46" y="256.15" width="24.31" height="19.85" fill="none" stroke="#111" stroke-width="1.15"/>
<text x="364" y="270.48" font-size="6.9" text-anchor="middle" font-weight="normal" fill="#000">1.2</text>
</g>
<rect x="302.2" y="213.8" width="68.6" height="67.2" fill="none" stroke="#222" stroke-width="0.7"/>
<line x1="306.2" y1="281" x2="306.2" y2="282.2" stroke="#333" stroke-width="0.4"/>
<line x1="301" y1="277" x2="302.2" y2="277" stroke="#333" stroke-width="0.4"/>
<line x1="321.7" y1="281" x2="321.7" y2="282.2" stroke="#333" stroke-width="0.4"/>
<line x1="301" y1="261.5" x2="302.2" y2="261.5" stroke="#333" stroke-width="0.4"/>
<line x1="337.2" y1="281" x2="337.2" y2="282.2" stroke="#333" stroke-width="0.4"/>
<line x1="301" y1="246" x2="302.2" y2="246" stroke="#333" stroke-width="0.4"/>
<line x1="352.7" y1="281" x2="352.7" y2="282.2" stroke="#333" stroke-width="0.4"/>
<line x1="301" y1="230.5" x2="302.2" y2="230.5" stroke="#333" stroke-width="0.4"/>
<line x1="368.2" y1="281" x2="368.2" y2="282.2" stroke="#333" stroke-width="0.4"/>
<line x1="301" y1="215" x2="302.2" y2="215" stroke="#333" stroke-width="0.4"/>
<clipPath id="c9"><rect x="396.2" y="135.8" width="67.4" height="68"/></clipPath>
<rect x="396.2" y="135.8" width="67.4" height="68" fill="#fff" stroke="none" stroke-width="0.8"/>
<g clip-path="url(#c9)">
<filter id="spk9" filterUnits="userSpaceOnUse" x="396.2" y="135.8" width="67.4" height="68" color-interpolation-filters="sRGB"><feTurbulence type="fractalNoise" baseFrequency="0.87" numOctaves="2" seed="9" result="n"/><feColorMatrix in="n" type="matrix" values="0 0 0 0 0 0 0 0 0 0 0 0 0 0 0 2.6 0 0 0 -0.78" result="na"/><feComposite in="SourceGraphic" in2="na" operator="arithmetic" k1="0.8" k2="1.0" k3="-0.8" k4="0"/><feGaussianBlur stdDeviation="0.6"/></filter>
<g filter="url(#spk9)">
<rect x="396.2" y="135.8" width="67.4" height="68" fill="#000" stroke="none" stroke-width="0.8" opacity="0"/>
<rect x="396.15" y="135.85" width="67.38" height="68" fill="#000" opacity="0.01"/>
<ellipse cx="432.31" cy="165.69" rx="15.2" ry="17.6" transform="rotate(0 432.31 165.69)" fill="url(#rg)" opacity="0.62"/>
<ellipse cx="434.62" cy="188.46" rx="18" ry="24" transform="rotate(0 434.62 188.46)" fill="url(#rg)" opacity="0.2"/>
<ellipse cx="396.46" cy="176.15" rx="1.6" ry="60" transform="rotate(0 396.46 176.15)" fill="url(#rg)" opacity="0.25"/>
<ellipse cx="428.46" cy="203.54" rx="72" ry="1.6" transform="rotate(0 428.46 203.54)" fill="url(#rg)" opacity="0.25"/>
</g>
<rect x="420.46" y="154.62" width="24.62" height="24.92" fill="none" stroke="#111" stroke-width="1.2"/>
<text x="432.31" y="151.61" font-size="6.6" text-anchor="middle" font-weight="normal" fill="#000">66</text>
</g>
<rect x="396.2" y="135.8" width="67.4" height="68" fill="none" stroke="#222" stroke-width="0.7"/>
<line x1="400.2" y1="203.8" x2="400.2" y2="205" stroke="#333" stroke-width="0.4"/>
<line x1="395" y1="199.8" x2="396.2" y2="199.8" stroke="#333" stroke-width="0.4"/>
<line x1="415.7" y1="203.8" x2="415.7" y2="205" stroke="#333" stroke-width="0.4"/>
<line x1="395" y1="184.3" x2="396.2" y2="184.3" stroke="#333" stroke-width="0.4"/>
<line x1="431.2" y1="203.8" x2="431.2" y2="205" stroke="#333" stroke-width="0.4"/>
<line x1="395" y1="168.8" x2="396.2" y2="168.8" stroke="#333" stroke-width="0.4"/>
<line x1="446.7" y1="203.8" x2="446.7" y2="205" stroke="#333" stroke-width="0.4"/>
<line x1="395" y1="153.3" x2="396.2" y2="153.3" stroke="#333" stroke-width="0.4"/>
<line x1="462.2" y1="203.8" x2="462.2" y2="205" stroke="#333" stroke-width="0.4"/>
<line x1="395" y1="137.8" x2="396.2" y2="137.8" stroke="#333" stroke-width="0.4"/>
<clipPath id="c10"><rect x="396.5" y="213.8" width="68.5" height="67.7"/></clipPath>
<rect x="396.5" y="213.8" width="68.5" height="67.7" fill="#fff" stroke="none" stroke-width="0.8"/>
<g clip-path="url(#c10)">
<filter id="spk10" filterUnits="userSpaceOnUse" x="396.5" y="213.8" width="68.5" height="67.7" color-interpolation-filters="sRGB"><feTurbulence type="fractalNoise" baseFrequency="0.87" numOctaves="2" seed="10" result="n"/><feColorMatrix in="n" type="matrix" values="0 0 0 0 0 0 0 0 0 0 0 0 0 0 0 2.6 0 0 0 -0.78" result="na"/><feComposite in="SourceGraphic" in2="na" operator="arithmetic" k1="0.8" k2="1.0" k3="-0.8" k4="0"/><feGaussianBlur stdDeviation="0.6"/></filter>
<g filter="url(#spk10)">
<rect x="396.5" y="213.8" width="68.5" height="67.7" fill="#000" stroke="none" stroke-width="0.8" opacity="0"/>
<rect x="396.46" y="213.85" width="68.46" height="67.69" fill="#000" opacity="0.01"/>
<ellipse cx="433.08" cy="243.08" rx="15.2" ry="17.6" transform="rotate(0 433.08 243.08)" fill="url(#rg)" opacity="0.5"/>
<ellipse cx="434.62" cy="266.46" rx="18" ry="24" transform="rotate(0 434.62 266.46)" fill="url(#rg)" opacity="0.16"/>
</g>
<rect x="420.46" y="230" width="24.62" height="24.62" fill="none" stroke="#111" stroke-width="1.2"/>
<text x="432.31" y="227.61" font-size="6.6" text-anchor="middle" font-weight="normal" fill="#000">63</text>
</g>
<rect x="396.5" y="213.8" width="68.5" height="67.7" fill="none" stroke="#222" stroke-width="0.7"/>
<line x1="400.5" y1="281.5" x2="400.5" y2="282.7" stroke="#333" stroke-width="0.4"/>
<line x1="395.3" y1="277.5" x2="396.5" y2="277.5" stroke="#333" stroke-width="0.4"/>
<line x1="416" y1="281.5" x2="416" y2="282.7" stroke="#333" stroke-width="0.4"/>
<line x1="395.3" y1="262" x2="396.5" y2="262" stroke="#333" stroke-width="0.4"/>
<line x1="431.5" y1="281.5" x2="431.5" y2="282.7" stroke="#333" stroke-width="0.4"/>
<line x1="395.3" y1="246.5" x2="396.5" y2="246.5" stroke="#333" stroke-width="0.4"/>
<line x1="447" y1="281.5" x2="447" y2="282.7" stroke="#333" stroke-width="0.4"/>
<line x1="395.3" y1="231" x2="396.5" y2="231" stroke="#333" stroke-width="0.4"/>
<line x1="462.5" y1="281.5" x2="462.5" y2="282.7" stroke="#333" stroke-width="0.4"/>
<line x1="395.3" y1="215.5" x2="396.5" y2="215.5" stroke="#333" stroke-width="0.4"/>
<text x="25" y="281.5" font-size="8.7" text-anchor="start" font-weight="normal" fill="#000" transform="rotate(-90 25 281.5)" dy="3">mCD45</text>
<line x1="25" y1="251" x2="25" y2="231.5" stroke="#000" stroke-width="1.25"/>
<path d="M25 226.7 l-2 6.3 l4 0 z" fill="#000"/>
<text x="36" y="293" font-size="8.35" text-anchor="start" font-weight="normal" fill="#000">hCD45</text>
<line x1="68.5" y1="290.3" x2="88.3" y2="290.3" stroke="#000" stroke-width="1.25"/>
<path d="M92.8 290.3 l-6.3 -2 l0 4 z" fill="#000"/>
<text x="115" y="281" font-size="8.7" text-anchor="start" font-weight="normal" fill="#000" transform="rotate(-90 115 281)" dy="3">hCD19</text>
<line x1="115" y1="251" x2="115" y2="231.5" stroke="#000" stroke-width="1.25"/>
<path d="M115 226.7 l-2 6.3 l4 0 z" fill="#000"/>
<text x="125" y="293.8" font-size="8.35" text-anchor="start" font-weight="normal" fill="#000">hCD33</text>
<line x1="158" y1="291" x2="176.8" y2="291" stroke="#000" stroke-width="1.25"/>
<path d="M181.3 291 l-6.3 -2 l0 4 z" fill="#000"/>
<text x="202.5" y="281.5" font-size="8.7" text-anchor="start" font-weight="normal" fill="#000" transform="rotate(-90 202.5 281.5)" dy="3">hCD45</text>
<line x1="202.5" y1="251" x2="202.5" y2="231.5" stroke="#000" stroke-width="1.25"/>
<path d="M202.5 226.7 l-2 6.3 l4 0 z" fill="#000"/>
<text x="213.5" y="293.8" font-size="8.35" text-anchor="start" font-weight="normal" fill="#000">hCD235a</text>
<line x1="254.5" y1="291" x2="273" y2="291" stroke="#000" stroke-width="1.25"/>
<path d="M277.5 291 l-6.3 -2 l0 4 z" fill="#000"/>
<text x="291.6" y="281" font-size="8.7" text-anchor="start" font-weight="normal" fill="#000" transform="rotate(-90 291.6 281)" dy="3">hCD38</text>
<line x1="291.8" y1="251" x2="291.8" y2="231.5" stroke="#000" stroke-width="1.25"/>
<path d="M291.8 226.7 l-2 6.3 l4 0 z" fill="#000"/>
<text x="302.2" y="293.9" font-size="8.35" text-anchor="start" font-weight="normal" fill="#000">hCD34</text>
<line x1="332.5" y1="291.1" x2="351.5" y2="291.1" stroke="#000" stroke-width="1.25"/>
<path d="M356 291.1 l-6.3 -2 l0 4 z" fill="#000"/>
<text x="384.5" y="280.5" font-size="8.7" text-anchor="start" font-weight="normal" fill="#000" transform="rotate(-90 384.5 280.5)" dy="3">IgM</text>
<line x1="384.5" y1="261" x2="384.5" y2="241.5" stroke="#000" stroke-width="1.25"/>
<path d="M384.5 236.7 l-2 6.3 l4 0 z" fill="#000"/>
<text x="396" y="293.8" font-size="8.35" text-anchor="start" font-weight="normal" fill="#000">hCD19</text>
<line x1="427.5" y1="291" x2="446" y2="291" stroke="#000" stroke-width="1.25"/>
<path d="M450.5 291 l-6.3 -2 l0 4 z" fill="#000"/>
<text x="1" y="312.6" font-size="11.3" text-anchor="start" font-weight="bold" fill="#000">D</text>
<line x1="35.8" y1="316.1" x2="35.8" y2="396.1" stroke="#000" stroke-width="0.9"/>
<line x1="35.35" y1="396.1" x2="153.8" y2="396.1" stroke="#000" stroke-width="0.9"/>
<line x1="33.4" y1="316.5" x2="35.8" y2="316.5" stroke="#000" stroke-width="0.9"/>
<text x="32.7" y="318.6" font-size="6" text-anchor="end" font-weight="bold" fill="#000">100</text>
<line x1="33.4" y1="336.4" x2="35.8" y2="336.4" stroke="#000" stroke-width="0.9"/>
<text x="32.7" y="338.5" font-size="6" text-anchor="end" font-weight="bold" fill="#000">10</text>
<line x1="33.4" y1="356.3" x2="35.8" y2="356.3" stroke="#000" stroke-width="0.9"/>
<text x="32.7" y="358.4" font-size="6" text-anchor="end" font-weight="bold" fill="#000">1</text>
<line x1="33.4" y1="376.2" x2="35.8" y2="376.2" stroke="#000" stroke-width="0.9"/>
<text x="32.7" y="378.3" font-size="6" text-anchor="end" font-weight="bold" fill="#000">0.1</text>
<line x1="33.4" y1="396.1" x2="35.8" y2="396.1" stroke="#000" stroke-width="0.9"/>
<text x="32.7" y="398.2" font-size="6" text-anchor="end" font-weight="bold" fill="#000">0.01</text>
<text x="21.4" y="355.5" font-size="6.5" text-anchor="middle" font-weight="bold" fill="#000" transform="rotate(-90 21.4 355.5)" dy="2.3" style="stroke:none">% human CD45</text>
<circle cx="43.43" cy="341.65" r="1.35" fill="#000"/>
<circle cx="40.09" cy="359.02" r="1.35" fill="#000"/>
<circle cx="46.77" cy="357.46" r="1.35" fill="#000"/>
<circle cx="39.64" cy="365.7" r="1.35" fill="#000"/>
<circle cx="43.43" cy="365.7" r="1.35" fill="#000"/>
<circle cx="47.22" cy="365.7" r="1.35" fill="#000"/>
<circle cx="43.43" cy="369.71" r="1.35" fill="#000"/>
<circle cx="42.98" cy="380.62" r="1.35" fill="#000"/>
<circle cx="42.98" cy="386.41" r="1.35" fill="#000"/>
<circle cx="45.66" cy="390.2" r="1.35" fill="#000"/>
<circle cx="40.09" cy="396.44" r="1.35" fill="#000"/>
<circle cx="42.32" cy="396.44" r="1.35" fill="#000"/>
<circle cx="44.54" cy="396.44" r="1.35" fill="#000"/>
<circle cx="46.77" cy="396.44" r="1.35" fill="#000"/>
<line x1="39.4" y1="361.92" x2="47.4" y2="361.92" stroke="#111" stroke-width="0.6"/>
<line x1="43.4" y1="356.35" x2="43.4" y2="369.04" stroke="#111" stroke-width="0.6"/>
<line x1="41.2" y1="356.35" x2="45.6" y2="356.35" stroke="#111" stroke-width="0.6"/>
<line x1="41.2" y1="369.04" x2="45.6" y2="369.04" stroke="#111" stroke-width="0.6"/>
<circle cx="61.25" cy="334.08" r="1.35" fill="#fff" stroke="#3a3a3a" stroke-width="0.6"/>
<circle cx="57.46" cy="335.19" r="1.35" fill="#fff" stroke="#3a3a3a" stroke-width="0.6"/>
<circle cx="55.23" cy="340.76" r="1.35" fill="#fff" stroke="#3a3a3a" stroke-width="0.6"/>
<circle cx="58.35" cy="340.76" r="1.35" fill="#fff" stroke="#3a3a3a" stroke-width="0.6"/>
<circle cx="61.25" cy="340.76" r="1.35" fill="#fff" stroke="#3a3a3a" stroke-width="0.6"/>
<circle cx="56.79" cy="342.32" r="1.35" fill="#fff" stroke="#3a3a3a" stroke-width="0.6"/>
<circle cx="59.69" cy="342.32" r="1.35" fill="#fff" stroke="#3a3a3a" stroke-width="0.6"/>
<circle cx="58.35" cy="344.54" r="1.35" fill="#fff" stroke="#3a3a3a" stroke-width="0.6"/>
<circle cx="57.91" cy="361.25" r="1.35" fill="#fff" stroke="#3a3a3a" stroke-width="0.6"/>
<circle cx="54.57" cy="369.71" r="1.35" fill="#fff" stroke="#3a3a3a" stroke-width="0.6"/>
<circle cx="59.02" cy="366.82" r="1.35" fill="#fff" stroke="#3a3a3a" stroke-width="0.6"/>
<circle cx="58.35" cy="372.38" r="1.35" fill="#fff" stroke="#3a3a3a" stroke-width="0.6"/>
<circle cx="58.35" cy="396.44" r="1.35" fill="#fff" stroke="#3a3a3a" stroke-width="0.6"/>
<circle cx="61.25" cy="396.44" r="1.35" fill="#fff" stroke="#3a3a3a" stroke-width="0.6"/>
<line x1="54.1" y1="340.76" x2="62.1" y2="340.76" stroke="#111" stroke-width="0.6"/>
<line x1="58.1" y1="338.31" x2="58.1" y2="344.54" stroke="#111" stroke-width="0.6"/>
<line x1="55.9" y1="338.31" x2="60.3" y2="338.31" stroke="#111" stroke-width="0.6"/>
<line x1="55.9" y1="344.54" x2="60.3" y2="344.54" stroke="#111" stroke-width="0.6"/>
<circle cx="69.49" cy="335.63" r="1.35" fill="#000"/>
<circle cx="73.05" cy="337.42" r="1.35" fill="#000"/>
<circle cx="73.5" cy="347.88" r="1.35" fill="#000"/>
<circle cx="71.71" cy="353.45" r="1.35" fill="#000"/>
<circle cx="75.72" cy="351.67" r="1.35" fill="#000"/>
<circle cx="70.82" cy="357.46" r="1.35" fill="#000"/>
<circle cx="74.61" cy="356.79" r="1.35" fill="#000"/>
<circle cx="76.39" cy="359.69" r="1.35" fill="#000"/>
<circle cx="72.38" cy="362.81" r="1.35" fill="#000"/>
<circle cx="73.5" cy="366.82" r="1.35" fill="#000"/>
<circle cx="71.71" cy="372.38" r="1.35" fill="#000"/>
<circle cx="75.72" cy="381.29" r="1.35" fill="#000"/>
<circle cx="72.38" cy="383.52" r="1.35" fill="#000"/>
<line x1="68.8" y1="353.01" x2="76.8" y2="353.01" stroke="#111" stroke-width="0.6"/>
<line x1="72.8" y1="347.44" x2="72.8" y2="357.46" stroke="#111" stroke-width="0.6"/>
<line x1="70.6" y1="347.44" x2="75" y2="347.44" stroke="#111" stroke-width="0.6"/>
<line x1="70.6" y1="357.46" x2="75" y2="357.46" stroke="#111" stroke-width="0.6"/>
<circle cx="84.19" cy="328.51" r="1.35" fill="#fff" stroke="#3a3a3a" stroke-width="0.6"/>
<circle cx="91.31" cy="330.73" r="1.35" fill="#fff" stroke="#3a3a3a" stroke-width="0.6"/>
<circle cx="87.97" cy="331.18" r="1.35" fill="#fff" stroke="#3a3a3a" stroke-width="0.6"/>
<circle cx="85.75" cy="335.19" r="1.35" fill="#fff" stroke="#3a3a3a" stroke-width="0.6"/>
<circle cx="88.42" cy="335.19" r="1.35" fill="#fff" stroke="#3a3a3a" stroke-width="0.6"/>
<circle cx="90.87" cy="333.85" r="1.35" fill="#fff" stroke="#3a3a3a" stroke-width="0.6"/>
<circle cx="86.41" cy="338.31" r="1.35" fill="#fff" stroke="#3a3a3a" stroke-width="0.6"/>
<circle cx="89.09" cy="338.98" r="1.35" fill="#fff" stroke="#3a3a3a" stroke-width="0.6"/>
<circle cx="87.31" cy="341.2" r="1.35" fill="#fff" stroke="#3a3a3a" stroke-width="0.6"/>
<circle cx="87.31" cy="351.22" r="1.35" fill="#fff" stroke="#3a3a3a" stroke-width="0.6"/>
<circle cx="91.76" cy="349.44" r="1.35" fill="#fff" stroke="#3a3a3a" stroke-width="0.6"/>
<circle cx="87.31" cy="356.79" r="1.35" fill="#fff" stroke="#3a3a3a" stroke-width="0.6"/>
<circle cx="90.87" cy="386.86" r="1.35" fill="#fff" stroke="#3a3a3a" stroke-width="0.6"/>
<circle cx="87.31" cy="390.2" r="1.35" fill="#fff" stroke="#3a3a3a" stroke-width="0.6"/>
<line x1="83.5" y1="335.63" x2="91.5" y2="335.63" stroke="#111" stroke-width="0.6"/>
<line x1="87.5" y1="332.96" x2="87.5" y2="338.75" stroke="#111" stroke-width="0.6"/>
<line x1="85.3" y1="332.96" x2="89.7" y2="332.96" stroke="#111" stroke-width="0.6"/>
<line x1="85.3" y1="338.75" x2="89.7" y2="338.75" stroke="#111" stroke-width="0.6"/>
<circle cx="102.25" cy="327.84" r="1.35" fill="#000"/>
<circle cx="106.04" cy="328.51" r="1.35" fill="#000"/>
<circle cx="100.02" cy="331.18" r="1.35" fill="#000"/>
<circle cx="104.48" cy="331.18" r="1.35" fill="#000"/>
<circle cx="98.91" cy="334.52" r="1.35" fill="#000"/>
<circle cx="102.25" cy="333.85" r="1.35" fill="#000"/>
<circle cx="105.59" cy="335.19" r="1.35" fill="#000"/>
<circle cx="99.35" cy="337.42" r="1.35" fill="#000"/>
<circle cx="103.81" cy="336.75" r="1.35" fill="#000"/>
<circle cx="101.58" cy="340.53" r="1.35" fill="#000"/>
<circle cx="102.25" cy="346.33" r="1.35" fill="#000"/>
<circle cx="98.46" cy="360.58" r="1.35" fill="#000"/>
<circle cx="102.25" cy="362.36" r="1.35" fill="#000"/>
<circle cx="102.25" cy="369.04" r="1.35" fill="#000"/>
<circle cx="105.59" cy="367.48" r="1.35" fill="#000"/>
<line x1="98.2" y1="335.19" x2="106.2" y2="335.19" stroke="#111" stroke-width="0.6"/>
<line x1="102.2" y1="332.96" x2="102.2" y2="337.86" stroke="#111" stroke-width="0.6"/>
<line x1="100" y1="332.96" x2="104.4" y2="332.96" stroke="#111" stroke-width="0.6"/>
<line x1="100" y1="337.86" x2="104.4" y2="337.86" stroke="#111" stroke-width="0.6"/>
<circle cx="113.39" cy="322.27" r="1.35" fill="#fff" stroke="#3a3a3a" stroke-width="0.6"/>
<circle cx="120.07" cy="323.39" r="1.35" fill="#fff" stroke="#3a3a3a" stroke-width="0.6"/>
<circle cx="116.28" cy="325.61" r="1.35" fill="#fff" stroke="#3a3a3a" stroke-width="0.6"/>
<circle cx="115.61" cy="328.51" r="1.35" fill="#fff" stroke="#3a3a3a" stroke-width="0.6"/>
<circle cx="120.07" cy="327.84" r="1.35" fill="#fff" stroke="#3a3a3a" stroke-width="0.6"/>
<circle cx="114.05" cy="331.18" r="1.35" fill="#fff" stroke="#3a3a3a" stroke-width="0.6"/>
<circle cx="117.17" cy="332.29" r="1.35" fill="#fff" stroke="#3a3a3a" stroke-width="0.6"/>
<circle cx="120.07" cy="331.18" r="1.35" fill="#fff" stroke="#3a3a3a" stroke-width="0.6"/>
<circle cx="116.73" cy="333.85" r="1.35" fill="#fff" stroke="#3a3a3a" stroke-width="0.6"/>
<circle cx="113.39" cy="337.42" r="1.35" fill="#fff" stroke="#3a3a3a" stroke-width="0.6"/>
<circle cx="120.07" cy="336.75" r="1.35" fill="#fff" stroke="#3a3a3a" stroke-width="0.6"/>
<circle cx="116.73" cy="340.09" r="1.35" fill="#fff" stroke="#3a3a3a" stroke-width="0.6"/>
<circle cx="116.73" cy="345.21" r="1.35" fill="#fff" stroke="#3a3a3a" stroke-width="0.6"/>
<circle cx="117.17" cy="360.13" r="1.35" fill="#fff" stroke="#3a3a3a" stroke-width="0.6"/>
<circle cx="117.17" cy="366.15" r="1.35" fill="#fff" stroke="#3a3a3a" stroke-width="0.6"/>
<line x1="112.9" y1="331.85" x2="120.9" y2="331.85" stroke="#111" stroke-width="0.6"/>
<line x1="116.9" y1="329.62" x2="116.9" y2="334.52" stroke="#111" stroke-width="0.6"/>
<line x1="114.7" y1="329.62" x2="119.1" y2="329.62" stroke="#111" stroke-width="0.6"/>
<line x1="114.7" y1="334.52" x2="119.1" y2="334.52" stroke="#111" stroke-width="0.6"/>
<circle cx="131.2" cy="324.94" r="1.35" fill="#000"/>
<circle cx="127.86" cy="327.84" r="1.35" fill="#000"/>
<circle cx="131.87" cy="328.51" r="1.35" fill="#000"/>
<circle cx="135.66" cy="327.84" r="1.35" fill="#000"/>
<circle cx="130.09" cy="330.73" r="1.35" fill="#000"/>
<circle cx="135.21" cy="332.29" r="1.35" fill="#000"/>
<circle cx="128.31" cy="333.85" r="1.35" fill="#000"/>
<circle cx="131.87" cy="335.63" r="1.35" fill="#000"/>
<circle cx="131.87" cy="339.64" r="1.35" fill="#000"/>
<line x1="127.6" y1="330.07" x2="135.6" y2="330.07" stroke="#111" stroke-width="0.6"/>
<line x1="131.6" y1="328.29" x2="131.6" y2="332.07" stroke="#111" stroke-width="0.6"/>
<line x1="129.4" y1="328.29" x2="133.8" y2="328.29" stroke="#111" stroke-width="0.6"/>
<line x1="129.4" y1="332.07" x2="133.8" y2="332.07" stroke="#111" stroke-width="0.6"/>
<circle cx="143.01" cy="322.94" r="1.35" fill="#fff" stroke="#3a3a3a" stroke-width="0.6"/>
<circle cx="146.79" cy="322.27" r="1.35" fill="#fff" stroke="#3a3a3a" stroke-width="0.6"/>
<circle cx="150.58" cy="324.05" r="1.35" fill="#fff" stroke="#3a3a3a" stroke-width="0.6"/>
<circle cx="143.45" cy="328.51" r="1.35" fill="#fff" stroke="#3a3a3a" stroke-width="0.6"/>
<circle cx="146.12" cy="327.17" r="1.35" fill="#fff" stroke="#3a3a3a" stroke-width="0.6"/>
<circle cx="149.69" cy="328.51" r="1.35" fill="#fff" stroke="#3a3a3a" stroke-width="0.6"/>
<circle cx="148.35" cy="332.29" r="1.35" fill="#fff" stroke="#3a3a3a" stroke-width="0.6"/>
<circle cx="150.13" cy="336.08" r="1.35" fill="#fff" stroke="#3a3a3a" stroke-width="0.6"/>
<circle cx="146.79" cy="338.31" r="1.35" fill="#fff" stroke="#3a3a3a" stroke-width="0.6"/>
<line x1="142.3" y1="328.06" x2="150.3" y2="328.06" stroke="#111" stroke-width="0.6"/>
<line x1="146.3" y1="326.28" x2="146.3" y2="330.07" stroke="#111" stroke-width="0.6"/>
<line x1="144.1" y1="326.28" x2="148.5" y2="326.28" stroke="#111" stroke-width="0.6"/>
<line x1="144.1" y1="330.07" x2="148.5" y2="330.07" stroke="#111" stroke-width="0.6"/>
<path d="M42.8 334.9 L42.8 319.2 L58.5 319.2 L58.5 326.8" fill="none" stroke="#111" stroke-width="0.6" stroke-linejoin="round"/>
<text x="50.65" y="318" font-size="6" text-anchor="middle" font-weight="bold" fill="#000">**</text>
<path d="M70.4 330.2 L70.4 317.4 L88.1 317.4 L88.1 324.1" fill="none" stroke="#111" stroke-width="0.6" stroke-linejoin="round"/>
<text x="79.25" y="316.2" font-size="6" text-anchor="middle" font-weight="bold" fill="#000">**</text>
<line x1="43.4" y1="396.1" x2="43.4" y2="398.1" stroke="#000" stroke-width="0.8"/>
<text x="43.4" y="404.2" font-size="6.5" text-anchor="middle" font-weight="bold" fill="#000">-</text>
<line x1="58.1" y1="396.1" x2="58.1" y2="398.1" stroke="#000" stroke-width="0.8"/>
<text x="58.1" y="404.2" font-size="6.5" text-anchor="middle" font-weight="bold" fill="#000">+</text>
<line x1="72.8" y1="396.1" x2="72.8" y2="398.1" stroke="#000" stroke-width="0.8"/>
<text x="72.8" y="404.2" font-size="6.5" text-anchor="middle" font-weight="bold" fill="#000">-</text>
<line x1="87.5" y1="396.1" x2="87.5" y2="398.1" stroke="#000" stroke-width="0.8"/>
<text x="87.5" y="404.2" font-size="6.5" text-anchor="middle" font-weight="bold" fill="#000">+</text>
<line x1="102.2" y1="396.1" x2="102.2" y2="398.1" stroke="#000" stroke-width="0.8"/>
<text x="102.2" y="404.2" font-size="6.5" text-anchor="middle" font-weight="bold" fill="#000">-</text>
<line x1="116.9" y1="396.1" x2="116.9" y2="398.1" stroke="#000" stroke-width="0.8"/>
<text x="116.9" y="404.2" font-size="6.5" text-anchor="middle" font-weight="bold" fill="#000">+</text>
<line x1="131.6" y1="396.1" x2="131.6" y2="398.1" stroke="#000" stroke-width="0.8"/>
<text x="131.6" y="404.2" font-size="6.5" text-anchor="middle" font-weight="bold" fill="#000">-</text>
<line x1="146.3" y1="396.1" x2="146.3" y2="398.1" stroke="#000" stroke-width="0.8"/>
<text x="146.3" y="404.2" font-size="6.5" text-anchor="middle" font-weight="bold" fill="#000">+</text>
<line x1="40" y1="406.5" x2="61.5" y2="406.5" stroke="#000" stroke-width="0.8"/>
<text x="50.75" y="415" font-size="5.4" text-anchor="middle" font-weight="normal">1× 10<tspan font-size="3.89" dy="-2.3">5</tspan></text>
<line x1="69.4" y1="406.5" x2="90.9" y2="406.5" stroke="#000" stroke-width="0.8"/>
<text x="80.15" y="415" font-size="5.4" text-anchor="middle" font-weight="normal">2× 10<tspan font-size="3.89" dy="-2.3">5</tspan></text>
<line x1="98.8" y1="406.5" x2="120.3" y2="406.5" stroke="#000" stroke-width="0.8"/>
<text x="109.55" y="415" font-size="5.4" text-anchor="middle" font-weight="normal">5× 10<tspan font-size="3.89" dy="-2.3">5</tspan></text>
<line x1="128.2" y1="406.5" x2="149.7" y2="406.5" stroke="#000" stroke-width="0.8"/>
<text x="138.95" y="415" font-size="5.4" text-anchor="middle" font-weight="normal">6× 10<tspan font-size="3.89" dy="-2.3">5</tspan></text>
<text x="158.7" y="403.6" font-size="5.6" text-anchor="start" font-weight="normal" fill="#000">NAC</text>
<text x="1" y="433" font-size="11.3" text-anchor="start" font-weight="bold" fill="#000">G</text>
<line x1="35.4" y1="437.9" x2="35.4" y2="517.9" stroke="#000" stroke-width="0.9"/>
<line x1="34.95" y1="517.9" x2="155" y2="517.9" stroke="#000" stroke-width="0.9"/>
<line x1="33" y1="438.3" x2="35.4" y2="438.3" stroke="#000" stroke-width="0.9"/>
<text x="32.3" y="440.4" font-size="6" text-anchor="end" font-weight="bold" fill="#000">100</text>
<line x1="33" y1="458.2" x2="35.4" y2="458.2" stroke="#000" stroke-width="0.9"/>
<text x="32.3" y="460.3" font-size="6" text-anchor="end" font-weight="bold" fill="#000">10</text>
<line x1="33" y1="478.1" x2="35.4" y2="478.1" stroke="#000" stroke-width="0.9"/>
<text x="32.3" y="480.2" font-size="6" text-anchor="end" font-weight="bold" fill="#000">1</text>
<line x1="33" y1="498" x2="35.4" y2="498" stroke="#000" stroke-width="0.9"/>
<text x="32.3" y="500.1" font-size="6" text-anchor="end" font-weight="bold" fill="#000">0.1</text>
<line x1="33" y1="517.9" x2="35.4" y2="517.9" stroke="#000" stroke-width="0.9"/>
<text x="32.3" y="520" font-size="6" text-anchor="end" font-weight="bold" fill="#000">0.01</text>
<text x="21.4" y="475.2" font-size="6.5" text-anchor="middle" font-weight="bold" fill="#000" transform="rotate(-90 21.4 475.2)" dy="2.3" style="stroke:none">% human CD45</text>
<circle cx="46.36" cy="482.91" r="1.35" fill="#000"/>
<circle cx="43.05" cy="485.12" r="1.35" fill="#000"/>
<circle cx="40.18" cy="493.95" r="1.35" fill="#000"/>
<circle cx="39.74" cy="502.78" r="1.35" fill="#000"/>
<circle cx="43.05" cy="502.78" r="1.35" fill="#000"/>
<circle cx="46.36" cy="502.78" r="1.35" fill="#000"/>
<circle cx="39.74" cy="507.86" r="1.35" fill="#000"/>
<circle cx="43.05" cy="507.86" r="1.35" fill="#000"/>
<circle cx="46.36" cy="510.51" r="1.35" fill="#000"/>
<circle cx="39.74" cy="517.79" r="1.35" fill="#000"/>
<circle cx="41.5" cy="517.79" r="1.35" fill="#000"/>
<circle cx="43.27" cy="517.79" r="1.35" fill="#000"/>
<circle cx="45.03" cy="517.79" r="1.35" fill="#000"/>
<circle cx="46.8" cy="517.79" r="1.35" fill="#000"/>
<line x1="39.4" y1="497.26" x2="47.4" y2="497.26" stroke="#111" stroke-width="0.6"/>
<line x1="43.4" y1="494.61" x2="43.4" y2="499.91" stroke="#111" stroke-width="0.6"/>
<line x1="41.2" y1="494.61" x2="45.6" y2="494.61" stroke="#111" stroke-width="0.6"/>
<line x1="41.2" y1="499.91" x2="45.6" y2="499.91" stroke="#111" stroke-width="0.6"/>
<circle cx="54.08" cy="461.94" r="1.35" fill="#fff" stroke="#3a3a3a" stroke-width="0.6"/>
<circle cx="57.84" cy="461.94" r="1.35" fill="#fff" stroke="#3a3a3a" stroke-width="0.6"/>
<circle cx="61.37" cy="461.94" r="1.35" fill="#fff" stroke="#3a3a3a" stroke-width="0.6"/>
<circle cx="55.19" cy="465.25" r="1.35" fill="#fff" stroke="#3a3a3a" stroke-width="0.6"/>
<circle cx="59.6" cy="465.25" r="1.35" fill="#fff" stroke="#3a3a3a" stroke-width="0.6"/>
<circle cx="57.84" cy="468.12" r="1.35" fill="#fff" stroke="#3a3a3a" stroke-width="0.6"/>
<circle cx="61.37" cy="467.46" r="1.35" fill="#fff" stroke="#3a3a3a" stroke-width="0.6"/>
<circle cx="54.75" cy="470.33" r="1.35" fill="#fff" stroke="#3a3a3a" stroke-width="0.6"/>
<circle cx="58.5" cy="472.98" r="1.35" fill="#fff" stroke="#3a3a3a" stroke-width="0.6"/>
<circle cx="57.84" cy="478.5" r="1.35" fill="#fff" stroke="#3a3a3a" stroke-width="0.6"/>
<circle cx="59.6" cy="482.91" r="1.35" fill="#fff" stroke="#3a3a3a" stroke-width="0.6"/>
<circle cx="57.84" cy="488.43" r="1.35" fill="#fff" stroke="#3a3a3a" stroke-width="0.6"/>
<circle cx="60.04" cy="486.23" r="1.35" fill="#fff" stroke="#3a3a3a" stroke-width="0.6"/>
<circle cx="57.84" cy="517.79" r="1.35" fill="#fff" stroke="#3a3a3a" stroke-width="0.6"/>
<circle cx="61.37" cy="517.79" r="1.35" fill="#fff" stroke="#3a3a3a" stroke-width="0.6"/>
<line x1="54.1" y1="470.33" x2="62.1" y2="470.33" stroke="#111" stroke-width="0.6"/>
<line x1="58.1" y1="468.12" x2="58.1" y2="472.98" stroke="#111" stroke-width="0.6"/>
<line x1="55.9" y1="468.12" x2="60.3" y2="468.12" stroke="#111" stroke-width="0.6"/>
<line x1="55.9" y1="472.98" x2="60.3" y2="472.98" stroke="#111" stroke-width="0.6"/>
<circle cx="72.85" cy="471.21" r="1.35" fill="#000"/>
<circle cx="69.54" cy="477.4" r="1.35" fill="#000"/>
<circle cx="76.16" cy="476.95" r="1.35" fill="#000"/>
<circle cx="71.74" cy="482.25" r="1.35" fill="#000"/>
<circle cx="70.2" cy="502.78" r="1.35" fill="#000"/>
<circle cx="73.51" cy="502.78" r="1.35" fill="#000"/>
<circle cx="76.82" cy="502.78" r="1.35" fill="#000"/>
<circle cx="68.87" cy="505.65" r="1.35" fill="#000"/>
<circle cx="72.41" cy="507.86" r="1.35" fill="#000"/>
<circle cx="75.06" cy="508.3" r="1.35" fill="#000"/>
<circle cx="70.64" cy="507.2" r="1.35" fill="#000"/>
<line x1="68.8" y1="485.12" x2="76.8" y2="485.12" stroke="#111" stroke-width="0.6"/>
<line x1="72.8" y1="480.71" x2="72.8" y2="490.2" stroke="#111" stroke-width="0.6"/>
<line x1="70.6" y1="480.71" x2="75" y2="480.71" stroke="#111" stroke-width="0.6"/>
<line x1="70.6" y1="490.2" x2="75" y2="490.2" stroke="#111" stroke-width="0.6"/>
<circle cx="84.99" cy="454.22" r="1.35" fill="#fff" stroke="#3a3a3a" stroke-width="0.6"/>
<circle cx="90.51" cy="454.88" r="1.35" fill="#fff" stroke="#3a3a3a" stroke-width="0.6"/>
<circle cx="83.89" cy="457.09" r="1.35" fill="#fff" stroke="#3a3a3a" stroke-width="0.6"/>
<circle cx="87.86" cy="456.42" r="1.35" fill="#fff" stroke="#3a3a3a" stroke-width="0.6"/>
<circle cx="91.61" cy="457.97" r="1.35" fill="#fff" stroke="#3a3a3a" stroke-width="0.6"/>
<circle cx="86.53" cy="459.74" r="1.35" fill="#fff" stroke="#3a3a3a" stroke-width="0.6"/>
<circle cx="90.07" cy="460.84" r="1.35" fill="#fff" stroke="#3a3a3a" stroke-width="0.6"/>
<circle cx="84.99" cy="467.46" r="1.35" fill="#fff" stroke="#3a3a3a" stroke-width="0.6"/>
<circle cx="90.95" cy="466.36" r="1.35" fill="#fff" stroke="#3a3a3a" stroke-width="0.6"/>
<circle cx="87.86" cy="471.21" r="1.35" fill="#fff" stroke="#3a3a3a" stroke-width="0.6"/>
<circle cx="91.61" cy="472.98" r="1.35" fill="#fff" stroke="#3a3a3a" stroke-width="0.6"/>
<circle cx="87.86" cy="478.5" r="1.35" fill="#fff" stroke="#3a3a3a" stroke-width="0.6"/>
<circle cx="87.86" cy="512.27" r="1.35" fill="#fff" stroke="#3a3a3a" stroke-width="0.6"/>
<line x1="83.5" y1="465.25" x2="91.5" y2="465.25" stroke="#111" stroke-width="0.6"/>
<line x1="87.5" y1="462.38" x2="87.5" y2="468.12" stroke="#111" stroke-width="0.6"/>
<line x1="85.3" y1="462.38" x2="89.7" y2="462.38" stroke="#111" stroke-width="0.6"/>
<line x1="85.3" y1="468.12" x2="89.7" y2="468.12" stroke="#111" stroke-width="0.6"/>
<circle cx="102.8" cy="457.53" r="1.35" fill="#000"/>
<circle cx="99.27" cy="461.5" r="1.35" fill="#000"/>
<circle cx="102.8" cy="461.5" r="1.35" fill="#000"/>
<circle cx="98.83" cy="467.46" r="1.35" fill="#000"/>
<circle cx="102.14" cy="466.36" r="1.35" fill="#000"/>
<circle cx="103.69" cy="468.12" r="1.35" fill="#000"/>
<circle cx="99.93" cy="469.67" r="1.35" fill="#000"/>
<circle cx="102.14" cy="470.33" r="1.35" fill="#000"/>
<circle cx="105.45" cy="469.67" r="1.35" fill="#000"/>
<circle cx="102.14" cy="476.95" r="1.35" fill="#000"/>
<circle cx="99.27" cy="483.58" r="1.35" fill="#000"/>
<circle cx="102.8" cy="484.02" r="1.35" fill="#000"/>
<circle cx="102.8" cy="507.64" r="1.35" fill="#000"/>
<line x1="98.2" y1="468.57" x2="106.2" y2="468.57" stroke="#111" stroke-width="0.6"/>
<line x1="102.2" y1="466.58" x2="102.2" y2="470.55" stroke="#111" stroke-width="0.6"/>
<line x1="100" y1="466.58" x2="104.4" y2="466.58" stroke="#111" stroke-width="0.6"/>
<line x1="100" y1="470.55" x2="104.4" y2="470.55" stroke="#111" stroke-width="0.6"/>
<circle cx="115.39" cy="450.91" r="1.35" fill="#fff" stroke="#3a3a3a" stroke-width="0.6"/>
<circle cx="120.91" cy="452.01" r="1.35" fill="#fff" stroke="#3a3a3a" stroke-width="0.6"/>
<circle cx="113.18" cy="454.22" r="1.35" fill="#fff" stroke="#3a3a3a" stroke-width="0.6"/>
<circle cx="116.49" cy="454.88" r="1.35" fill="#fff" stroke="#3a3a3a" stroke-width="0.6"/>
<circle cx="119.8" cy="454.22" r="1.35" fill="#fff" stroke="#3a3a3a" stroke-width="0.6"/>
<circle cx="114.72" cy="456.42" r="1.35" fill="#fff" stroke="#3a3a3a" stroke-width="0.6"/>
<circle cx="118.7" cy="457.53" r="1.35" fill="#fff" stroke="#3a3a3a" stroke-width="0.6"/>
<circle cx="116.93" cy="460.84" r="1.35" fill="#fff" stroke="#3a3a3a" stroke-width="0.6"/>
<circle cx="113.84" cy="466.36" r="1.35" fill="#fff" stroke="#3a3a3a" stroke-width="0.6"/>
<circle cx="117.59" cy="469.01" r="1.35" fill="#fff" stroke="#3a3a3a" stroke-width="0.6"/>
<circle cx="117.59" cy="480.71" r="1.35" fill="#fff" stroke="#3a3a3a" stroke-width="0.6"/>
<circle cx="113.84" cy="483.58" r="1.35" fill="#fff" stroke="#3a3a3a" stroke-width="0.6"/>
<circle cx="117.59" cy="485.12" r="1.35" fill="#fff" stroke="#3a3a3a" stroke-width="0.6"/>
<circle cx="117.59" cy="504.99" r="1.35" fill="#fff" stroke="#3a3a3a" stroke-width="0.6"/>
<line x1="112.9" y1="458.63" x2="120.9" y2="458.63" stroke="#111" stroke-width="0.6"/>
<line x1="116.9" y1="456.42" x2="116.9" y2="461.28" stroke="#111" stroke-width="0.6"/>
<line x1="114.7" y1="456.42" x2="119.1" y2="456.42" stroke="#111" stroke-width="0.6"/>
<line x1="114.7" y1="461.28" x2="119.1" y2="461.28" stroke="#111" stroke-width="0.6"/>
<circle cx="131.94" cy="452.01" r="1.35" fill="#000"/>
<circle cx="135.25" cy="454.22" r="1.35" fill="#000"/>
<circle cx="129.74" cy="456.42" r="1.35" fill="#000"/>
<circle cx="133.05" cy="456.42" r="1.35" fill="#000"/>
<circle cx="128.63" cy="459.74" r="1.35" fill="#000"/>
<circle cx="131.94" cy="460.18" r="1.35" fill="#000"/>
<circle cx="135.25" cy="459.74" r="1.35" fill="#000"/>
<circle cx="131.94" cy="517.79" r="1.35" fill="#000"/>
<line x1="127.6" y1="457.53" x2="135.6" y2="457.53" stroke="#111" stroke-width="0.6"/>
<line x1="131.6" y1="456.2" x2="131.6" y2="459.07" stroke="#111" stroke-width="0.6"/>
<line x1="129.4" y1="456.2" x2="133.8" y2="456.2" stroke="#111" stroke-width="0.6"/>
<line x1="129.4" y1="459.07" x2="133.8" y2="459.07" stroke="#111" stroke-width="0.6"/>
<circle cx="142.98" cy="449.8" r="1.35" fill="#fff" stroke="#3a3a3a" stroke-width="0.6"/>
<circle cx="150.71" cy="452.01" r="1.35" fill="#fff" stroke="#3a3a3a" stroke-width="0.6"/>
<circle cx="146.29" cy="453.55" r="1.35" fill="#fff" stroke="#3a3a3a" stroke-width="0.6"/>
<circle cx="144.08" cy="455.32" r="1.35" fill="#fff" stroke="#3a3a3a" stroke-width="0.6"/>
<circle cx="147.84" cy="454.88" r="1.35" fill="#fff" stroke="#3a3a3a" stroke-width="0.6"/>
<circle cx="151.37" cy="455.32" r="1.35" fill="#fff" stroke="#3a3a3a" stroke-width="0.6"/>
<circle cx="142.98" cy="457.97" r="1.35" fill="#fff" stroke="#3a3a3a" stroke-width="0.6"/>
<circle cx="146.95" cy="459.29" r="1.35" fill="#fff" stroke="#3a3a3a" stroke-width="0.6"/>
<circle cx="150.04" cy="457.97" r="1.35" fill="#fff" stroke="#3a3a3a" stroke-width="0.6"/>
<circle cx="147.4" cy="460.84" r="1.35" fill="#fff" stroke="#3a3a3a" stroke-width="0.6"/>
<line x1="142.3" y1="455.32" x2="150.3" y2="455.32" stroke="#111" stroke-width="0.6"/>
<line x1="146.3" y1="454" x2="146.3" y2="456.87" stroke="#111" stroke-width="0.6"/>
<line x1="144.1" y1="454" x2="148.5" y2="454" stroke="#111" stroke-width="0.6"/>
<line x1="144.1" y1="456.87" x2="148.5" y2="456.87" stroke="#111" stroke-width="0.6"/>
<path d="M42.4 463.2 L42.4 443.4 L57.6 443.4 L57.6 452.2" fill="none" stroke="#111" stroke-width="0.6" stroke-linejoin="round"/>
<text x="50" y="442.2" font-size="6" text-anchor="middle" font-weight="bold" fill="#000">***</text>
<path d="M72.4 455.5 L72.4 440.3 L87.6 440.3 L87.6 447" fill="none" stroke="#111" stroke-width="0.6" stroke-linejoin="round"/>
<text x="80" y="439.1" font-size="6" text-anchor="middle" font-weight="bold" fill="#000">***</text>
<path d="M102 451 L102 436.8 L117 436.8 L117 443.2" fill="none" stroke="#111" stroke-width="0.6" stroke-linejoin="round"/>
<text x="109.5" y="435.6" font-size="6" text-anchor="middle" font-weight="bold" fill="#000">*</text>
<line x1="43.4" y1="517.9" x2="43.4" y2="519.9" stroke="#000" stroke-width="0.8"/>
<text x="43.4" y="525.4" font-size="6.5" text-anchor="middle" font-weight="bold" fill="#000">-</text>
<line x1="58.1" y1="517.9" x2="58.1" y2="519.9" stroke="#000" stroke-width="0.8"/>
<text x="58.1" y="525.4" font-size="6.5" text-anchor="middle" font-weight="bold" fill="#000">+</text>
<line x1="72.8" y1="517.9" x2="72.8" y2="519.9" stroke="#000" stroke-width="0.8"/>
<text x="72.8" y="525.4" font-size="6.5" text-anchor="middle" font-weight="bold" fill="#000">-</text>
<line x1="87.5" y1="517.9" x2="87.5" y2="519.9" stroke="#000" stroke-width="0.8"/>
<text x="87.5" y="525.4" font-size="6.5" text-anchor="middle" font-weight="bold" fill="#000">+</text>
<line x1="102.2" y1="517.9" x2="102.2" y2="519.9" stroke="#000" stroke-width="0.8"/>
<text x="102.2" y="525.4" font-size="6.5" text-anchor="middle" font-weight="bold" fill="#000">-</text>
<line x1="116.9" y1="517.9" x2="116.9" y2="519.9" stroke="#000" stroke-width="0.8"/>
<text x="116.9" y="525.4" font-size="6.5" text-anchor="middle" font-weight="bold" fill="#000">+</text>
<line x1="131.6" y1="517.9" x2="131.6" y2="519.9" stroke="#000" stroke-width="0.8"/>
<text x="131.6" y="525.4" font-size="6.5" text-anchor="middle" font-weight="bold" fill="#000">-</text>
<line x1="146.3" y1="517.9" x2="146.3" y2="519.9" stroke="#000" stroke-width="0.8"/>
<text x="146.3" y="525.4" font-size="6.5" text-anchor="middle" font-weight="bold" fill="#000">+</text>
<line x1="40" y1="528.5" x2="61.5" y2="528.5" stroke="#000" stroke-width="0.8"/>
<text x="50.75" y="536.6" font-size="5.4" text-anchor="middle" font-weight="normal">1× 10<tspan font-size="3.89" dy="-2.3">5</tspan></text>
<line x1="69.4" y1="528.5" x2="90.9" y2="528.5" stroke="#000" stroke-width="0.8"/>
<text x="80.15" y="536.6" font-size="5.4" text-anchor="middle" font-weight="normal">2× 10<tspan font-size="3.89" dy="-2.3">5</tspan></text>
<line x1="98.8" y1="528.5" x2="120.3" y2="528.5" stroke="#000" stroke-width="0.8"/>
<text x="109.55" y="536.6" font-size="5.4" text-anchor="middle" font-weight="normal">5× 10<tspan font-size="3.89" dy="-2.3">5</tspan></text>
<line x1="128.2" y1="528.5" x2="149.7" y2="528.5" stroke="#000" stroke-width="0.8"/>
<text x="138.95" y="536.6" font-size="5.4" text-anchor="middle" font-weight="normal">6× 10<tspan font-size="3.89" dy="-2.3">5</tspan></text>
<text x="157.3" y="524.8" font-size="5.6" text-anchor="start" font-weight="normal" fill="#000">NAC</text>
<text x="183" y="312.6" font-size="11.3" text-anchor="start" font-weight="bold" fill="#000">E</text>
<line x1="222.3" y1="316.9" x2="222.3" y2="396.1" stroke="#000" stroke-width="0.9"/>
<line x1="221.85" y1="396.1" x2="308.6" y2="396.1" stroke="#000" stroke-width="0.9"/>
<line x1="219.9" y1="396.1" x2="222.3" y2="396.1" stroke="#000" stroke-width="0.9"/>
<text x="219" y="398.1" font-size="5.7" text-anchor="end" font-weight="bold" fill="#000">0</text>
<line x1="219.9" y1="376.4" x2="222.3" y2="376.4" stroke="#000" stroke-width="0.9"/>
<text x="219" y="378.4" font-size="5.7" text-anchor="end" font-weight="bold" fill="#000">2</text>
<line x1="219.9" y1="356.7" x2="222.3" y2="356.7" stroke="#000" stroke-width="0.9"/>
<text x="219" y="358.7" font-size="5.7" text-anchor="end" font-weight="bold" fill="#000">4</text>
<line x1="219.9" y1="337" x2="222.3" y2="337" stroke="#000" stroke-width="0.9"/>
<text x="219" y="339" font-size="5.7" text-anchor="end" font-weight="bold" fill="#000">6</text>
<line x1="219.9" y1="317.3" x2="222.3" y2="317.3" stroke="#000" stroke-width="0.9"/>
<text x="219" y="319.3" font-size="5.7" text-anchor="end" font-weight="bold" fill="#000">8</text>
<rect x="225.8" y="324.2" width="14.5" height="71.9" fill="#0a0a0a" stroke="none" stroke-width="0.8"/>
<text x="233.05" y="322.7" font-size="5.8" text-anchor="middle" font-weight="bold" fill="#000">7.3</text>
<line x1="233.05" y1="396.1" x2="233.05" y2="398.1" stroke="#000" stroke-width="0.8"/>
<text x="233.05" y="405" font-size="5.8" text-anchor="middle" font-weight="bold">1×10<tspan font-size="4.18" dy="-2.3">5</tspan></text>
<rect x="247.2" y="350.79" width="14.5" height="45.31" fill="#0a0a0a" stroke="none" stroke-width="0.8"/>
<text x="254.45" y="349.29" font-size="5.8" text-anchor="middle" font-weight="bold" fill="#000">4.6</text>
<line x1="254.45" y1="396.1" x2="254.45" y2="398.1" stroke="#000" stroke-width="0.8"/>
<text x="254.45" y="405" font-size="5.8" text-anchor="middle" font-weight="bold">2×10<tspan font-size="4.18" dy="-2.3">5</tspan></text>
<rect x="268.7" y="378.37" width="14.4" height="17.73" fill="#0a0a0a" stroke="none" stroke-width="0.8"/>
<text x="275.9" y="376.87" font-size="5.8" text-anchor="middle" font-weight="bold" fill="#000">1.8</text>
<line x1="275.9" y1="396.1" x2="275.9" y2="398.1" stroke="#000" stroke-width="0.8"/>
<text x="275.9" y="405" font-size="5.8" text-anchor="middle" font-weight="bold">5×10<tspan font-size="4.18" dy="-2.3">5</tspan></text>
<rect x="290" y="383.3" width="14.3" height="12.81" fill="#0a0a0a" stroke="none" stroke-width="0.8"/>
<text x="297.15" y="381.8" font-size="5.8" text-anchor="middle" font-weight="bold" fill="#000">1.3</text>
<line x1="297.15" y1="396.1" x2="297.15" y2="398.1" stroke="#000" stroke-width="0.8"/>
<text x="297.15" y="405" font-size="5.8" text-anchor="middle" font-weight="bold">6×10<tspan font-size="4.18" dy="-2.3">5</tspan></text>
<text x="203.5" y="356.7" font-size="5.85" text-anchor="middle" font-weight="bold" fill="#222" transform="rotate(-90 203.5 356.7)" dy="2" style="stroke:none">Fold difference engrafment</text>
<text x="211.3" y="357.5" font-size="5.85" text-anchor="middle" font-weight="bold" fill="#222" transform="rotate(-90 211.3 357.5)" dy="2" style="stroke:none">(NAC/control)</text>
<text x="184" y="431.5" font-size="11.3" text-anchor="start" font-weight="bold" fill="#000">H</text>
<line x1="225.7" y1="438" x2="225.7" y2="518" stroke="#000" stroke-width="0.9"/>
<line x1="225.25" y1="518" x2="308.9" y2="518" stroke="#000" stroke-width="0.9"/>
<line x1="223.3" y1="518" x2="225.7" y2="518" stroke="#000" stroke-width="0.9"/>
<text x="222.4" y="520" font-size="5.7" text-anchor="end" font-weight="bold" fill="#000">0</text>
<line x1="223.3" y1="491.47" x2="225.7" y2="491.47" stroke="#000" stroke-width="0.9"/>
<text x="222.4" y="493.47" font-size="5.7" text-anchor="end" font-weight="bold" fill="#000">10</text>
<line x1="223.3" y1="464.94" x2="225.7" y2="464.94" stroke="#000" stroke-width="0.9"/>
<text x="222.4" y="466.94" font-size="5.7" text-anchor="end" font-weight="bold" fill="#000">20</text>
<line x1="223.3" y1="438.41" x2="225.7" y2="438.41" stroke="#000" stroke-width="0.9"/>
<text x="222.4" y="440.41" font-size="5.7" text-anchor="end" font-weight="bold" fill="#000">30</text>
<rect x="230" y="449.02" width="14.3" height="68.98" fill="#0a0a0a" stroke="none" stroke-width="0.8"/>
<text x="237.15" y="447.52" font-size="5.8" text-anchor="middle" font-weight="bold" fill="#000">26</text>
<line x1="237.15" y1="518" x2="237.15" y2="520" stroke="#000" stroke-width="0.8"/>
<text x="237.15" y="526.3" font-size="5.8" text-anchor="middle" font-weight="bold">1×10<tspan font-size="4.18" dy="-2.3">5</tspan></text>
<rect x="250.1" y="479.53" width="14.5" height="38.47" fill="#0a0a0a" stroke="none" stroke-width="0.8"/>
<text x="257.35" y="478.03" font-size="5.8" text-anchor="middle" font-weight="bold" fill="#000">14.5</text>
<line x1="257.35" y1="518" x2="257.35" y2="520" stroke="#000" stroke-width="0.8"/>
<text x="257.35" y="526.3" font-size="5.8" text-anchor="middle" font-weight="bold">2×10<tspan font-size="4.18" dy="-2.3">5</tspan></text>
<rect x="270.4" y="510.04" width="14.3" height="7.96" fill="#0a0a0a" stroke="none" stroke-width="0.8"/>
<text x="277.55" y="508.54" font-size="5.8" text-anchor="middle" font-weight="bold" fill="#000">3.0</text>
<line x1="277.55" y1="518" x2="277.55" y2="520" stroke="#000" stroke-width="0.8"/>
<text x="277.55" y="526.3" font-size="5.8" text-anchor="middle" font-weight="bold">5×10<tspan font-size="4.18" dy="-2.3">5</tspan></text>
<rect x="290.5" y="513.76" width="14.5" height="4.24" fill="#0a0a0a" stroke="none" stroke-width="0.8"/>
<text x="297.75" y="512.26" font-size="5.8" text-anchor="middle" font-weight="bold" fill="#000">1.6</text>
<line x1="297.75" y1="518" x2="297.75" y2="520" stroke="#000" stroke-width="0.8"/>
<text x="297.75" y="526.3" font-size="5.8" text-anchor="middle" font-weight="bold">6×10<tspan font-size="4.18" dy="-2.3">5</tspan></text>
<text x="203.5" y="478.2" font-size="5.85" text-anchor="middle" font-weight="bold" fill="#222" transform="rotate(-90 203.5 478.2)" dy="2" style="stroke:none">Fold difference engrafment</text>
<text x="211.3" y="479" font-size="5.85" text-anchor="middle" font-weight="bold" fill="#222" transform="rotate(-90 211.3 479)" dy="2" style="stroke:none">(NAC/control)</text>
<text x="352" y="312.6" font-size="11.3" text-anchor="start" font-weight="bold" fill="#000">F</text>
<line x1="392" y1="317.1" x2="392" y2="396.4" stroke="#000" stroke-width="0.9"/>
<line x1="391.55" y1="396.4" x2="440.4" y2="396.4" stroke="#000" stroke-width="0.9"/>
<line x1="389.6" y1="396.4" x2="392" y2="396.4" stroke="#000" stroke-width="0.9"/>
<text x="389.4" y="398.4" font-size="5.9" text-anchor="end" font-weight="bold" fill="#000">0</text>
<line x1="389.6" y1="370" x2="392" y2="370" stroke="#000" stroke-width="0.9"/>
<text x="389.4" y="372" font-size="5.9" text-anchor="end" font-weight="bold" fill="#000">1</text>
<line x1="389.6" y1="343.6" x2="392" y2="343.6" stroke="#000" stroke-width="0.9"/>
<text x="389.4" y="345.6" font-size="5.9" text-anchor="end" font-weight="bold" fill="#000">2</text>
<line x1="389.6" y1="317.2" x2="392" y2="317.2" stroke="#000" stroke-width="0.9"/>
<text x="389.4" y="319.2" font-size="5.9" text-anchor="end" font-weight="bold" fill="#000">3</text>
<text x="379.8" y="357" font-size="6.75" text-anchor="middle" font-weight="bold" fill="#222" transform="rotate(-90 379.8 357)" dy="2.3" style="stroke:none">CD45+CD34+CD38-(%)</text>
<circle cx="405.1" cy="351.53" r="1.45" fill="#000"/>
<circle cx="405.1" cy="375.41" r="1.45" fill="#000"/>
<circle cx="402.65" cy="383.57" r="1.45" fill="#000"/>
<circle cx="406.53" cy="383.57" r="1.45" fill="#000"/>
<circle cx="405.1" cy="394.8" r="1.45" fill="#000"/>
<rect x="427.83" y="330.18" width="2.7" height="2.7" fill="#000" stroke="none" stroke-width="0.8"/>
<rect x="429.87" y="343.45" width="2.7" height="2.7" fill="#000" stroke="none" stroke-width="0.8"/>
<rect x="426.81" y="346.51" width="2.7" height="2.7" fill="#000" stroke="none" stroke-width="0.8"/>
<rect x="424.77" y="357.12" width="2.7" height="2.7" fill="#000" stroke="none" stroke-width="0.8"/>
<rect x="428.24" y="358.34" width="2.7" height="2.7" fill="#000" stroke="none" stroke-width="0.8"/>
<rect x="427.83" y="380.18" width="2.7" height="2.7" fill="#000" stroke="none" stroke-width="0.8"/>
<line x1="398.9" y1="378" x2="411.3" y2="378" stroke="#111" stroke-width="0.9"/>
<line x1="405.1" y1="370.7" x2="405.1" y2="385.6" stroke="#111" stroke-width="0.9"/>
<line x1="401.69" y1="370.7" x2="408.51" y2="370.7" stroke="#111" stroke-width="0.9"/>
<line x1="401.69" y1="385.6" x2="408.51" y2="385.6" stroke="#111" stroke-width="0.9"/>
<line x1="422.7" y1="354.4" x2="434.9" y2="354.4" stroke="#111" stroke-width="0.9"/>
<line x1="428.8" y1="347.4" x2="428.8" y2="361.1" stroke="#111" stroke-width="0.9"/>
<line x1="425.44" y1="347.4" x2="432.16" y2="347.4" stroke="#111" stroke-width="0.9"/>
<line x1="425.44" y1="361.1" x2="432.16" y2="361.1" stroke="#111" stroke-width="0.9"/>
<path d="M404.3 344.8 L404.3 323.4 L429.6 323.4 L429.6 327.4" fill="none" stroke="#111" stroke-width="0.6" stroke-linejoin="round"/>
<text x="417" y="322.3" font-size="6" text-anchor="middle" font-weight="bold" fill="#000">*</text>
<line x1="405" y1="396.4" x2="405" y2="398.4" stroke="#000" stroke-width="0.8"/>
<text x="405" y="405" font-size="6.5" text-anchor="middle" font-weight="bold" fill="#000">-</text>
<line x1="429.2" y1="396.4" x2="429.2" y2="398.4" stroke="#000" stroke-width="0.8"/>
<text x="429.2" y="405" font-size="6.5" text-anchor="middle" font-weight="bold" fill="#000">+</text>
<text x="443" y="406" font-size="5.6" text-anchor="start" font-weight="normal" fill="#000">NAC</text>
<text x="333" y="432.3" font-size="11.3" text-anchor="start" font-weight="bold" fill="#000">I</text>
<line x1="364.7" y1="445.3" x2="364.7" y2="518.1" stroke="#000" stroke-width="0.9"/>
<line x1="364.25" y1="518.1" x2="461" y2="518.1" stroke="#000" stroke-width="0.9"/>
<line x1="362.3" y1="518.1" x2="364.7" y2="518.1" stroke="#000" stroke-width="0.9"/>
<text x="361.4" y="520.1" font-size="5.7" text-anchor="end" font-weight="bold" fill="#000">0</text>
<line x1="362.3" y1="503.52" x2="364.7" y2="503.52" stroke="#000" stroke-width="0.9"/>
<text x="361.4" y="505.52" font-size="5.7" text-anchor="end" font-weight="bold" fill="#000">20</text>
<line x1="362.3" y1="488.94" x2="364.7" y2="488.94" stroke="#000" stroke-width="0.9"/>
<text x="361.4" y="490.94" font-size="5.7" text-anchor="end" font-weight="bold" fill="#000">40</text>
<line x1="362.3" y1="474.36" x2="364.7" y2="474.36" stroke="#000" stroke-width="0.9"/>
<text x="361.4" y="476.36" font-size="5.7" text-anchor="end" font-weight="bold" fill="#000">60</text>
<line x1="362.3" y1="459.78" x2="364.7" y2="459.78" stroke="#000" stroke-width="0.9"/>
<text x="361.4" y="461.78" font-size="5.7" text-anchor="end" font-weight="bold" fill="#000">80</text>
<line x1="362.3" y1="445.2" x2="364.7" y2="445.2" stroke="#000" stroke-width="0.9"/>
<text x="361.4" y="447.2" font-size="5.7" text-anchor="end" font-weight="bold" fill="#000">100</text>
<text x="345.2" y="480.5" font-size="6.3" text-anchor="middle" font-weight="bold" fill="#222" transform="rotate(-90 345.2 480.5)" dy="2.2" style="stroke:none">% of human cells</text>
<defs><pattern id="vs" width="1.4" height="4" patternUnits="userSpaceOnUse"><rect width="1.4" height="4" fill="#fff"/><rect width="0.6" height="4" fill="#111"/></pattern></defs>
<rect x="368.4" y="464.3" width="16.7" height="53.8" fill="#0a0a0a" stroke="#111" stroke-width="0.5"/>
<rect x="368.4" y="458.7" width="16.7" height="5.6" fill="#fff" stroke="#111" stroke-width="0.5"/>
<rect x="368.4" y="456.8" width="16.7" height="1.9" fill="#999" stroke="#111" stroke-width="0.5"/>
<rect x="368.4" y="455.8" width="16.7" height="1" fill="url(#vs)" stroke="#111" stroke-width="0.5"/>
<rect x="368.4" y="454.5" width="16.7" height="1.3" fill="#aaa" stroke="#111" stroke-width="0.5"/>
<line x1="376.9" y1="464.3" x2="376.9" y2="468.4" stroke="#fff" stroke-width="0.8"/>
<line x1="372.7" y1="468.4" x2="381.2" y2="468.4" stroke="#fff" stroke-width="0.9"/>
<rect x="393.4" y="460.6" width="16.7" height="57.5" fill="#0a0a0a" stroke="#111" stroke-width="0.5"/>
<rect x="393.4" y="453.6" width="16.7" height="7" fill="#fff" stroke="#111" stroke-width="0.5"/>
<rect x="393.4" y="452.2" width="16.7" height="1.4" fill="#888" stroke="#111" stroke-width="0.5"/>
<rect x="393.4" y="451.4" width="16.7" height="0.8" fill="url(#vs)" stroke="#111" stroke-width="0.5"/>
<rect x="393.4" y="449.8" width="16.7" height="1.6" fill="#aaa" stroke="#111" stroke-width="0.5"/>
<line x1="401.7" y1="460.6" x2="401.7" y2="462.5" stroke="#fff" stroke-width="0.8"/>
<line x1="398" y1="462.5" x2="405.5" y2="462.5" stroke="#fff" stroke-width="0.9"/>
<rect x="417.9" y="452.1" width="17.1" height="66" fill="#0a0a0a" stroke="#111" stroke-width="0.5"/>
<line x1="426.9" y1="452" x2="426.9" y2="456.2" stroke="#fff" stroke-width="0.8"/>
<line x1="423" y1="456.2" x2="430.9" y2="456.2" stroke="#fff" stroke-width="0.9"/>
<rect x="442.9" y="446.6" width="16.5" height="71.5" fill="#0a0a0a" stroke="#111" stroke-width="0.5"/>
<line x1="447" y1="447.2" x2="455" y2="447.2" stroke="#aaa" stroke-width="0.6"/>
<line x1="376.5" y1="518.1" x2="376.5" y2="520.1" stroke="#000" stroke-width="0.8"/>
<text x="376.5" y="525.5" font-size="6.5" text-anchor="middle" font-weight="bold" fill="#000">-</text>
<line x1="401.6" y1="518.1" x2="401.6" y2="520.1" stroke="#000" stroke-width="0.8"/>
<text x="401.6" y="525.5" font-size="6.5" text-anchor="middle" font-weight="bold" fill="#000">+</text>
<line x1="425.9" y1="518.1" x2="425.9" y2="520.1" stroke="#000" stroke-width="0.8"/>
<text x="425.9" y="525.5" font-size="6.5" text-anchor="middle" font-weight="bold" fill="#000">-</text>
<line x1="450.8" y1="518.1" x2="450.8" y2="520.1" stroke="#000" stroke-width="0.8"/>
<text x="450.8" y="525.5" font-size="6.5" text-anchor="middle" font-weight="bold" fill="#000">+</text>
<line x1="374" y1="526.6" x2="404.6" y2="526.6" stroke="#222" stroke-width="0.9"/>
<line x1="423.5" y1="526.6" x2="460" y2="526.6" stroke="#222" stroke-width="0.9"/>
<text x="389" y="533.6" font-size="5.6" text-anchor="middle" font-weight="normal" fill="#000">BM</text>
<text x="439" y="533.6" font-size="5.6" text-anchor="middle" font-weight="normal" fill="#000">SP</text>
<text x="464.8" y="526.5" font-size="5.7" text-anchor="start" font-weight="normal" fill="#000">NAC</text>
<rect x="469.3" y="464.2" width="8.5" height="3.6" fill="#0a0a0a" stroke="#111" stroke-width="0.6"/>
<text x="482.6" y="468.3" font-size="6.6" text-anchor="start" font-weight="normal" fill="#222" style="stroke:none">CD19+(B)</text>
<rect x="469.3" y="473.3" width="8.5" height="3.6" fill="#fff" stroke="#111" stroke-width="0.6"/>
<text x="482.6" y="477.4" font-size="6.6" text-anchor="start" font-weight="normal" fill="#222" style="stroke:none">CD33+(M)</text>
<rect x="469.3" y="482.4" width="8.5" height="3.6" fill="#999" stroke="#999" stroke-width="0.6"/>
<text x="482.6" y="486.5" font-size="6.6" text-anchor="start" font-weight="normal" fill="#222" style="stroke:none">CD235a+(E)</text>
<rect x="469.3" y="491.5" width="8.5" height="3.6" fill="url(#vs)" stroke="#111" stroke-width="0.6"/>
<text x="482.6" y="495.6" font-size="6.6" text-anchor="start" font-weight="normal" fill="#222" style="stroke:none">CD3+(T)</text>
<rect x="469.3" y="500.6" width="8.5" height="3.6" fill="#aaa" stroke="#333" stroke-width="0.6"/>
<text x="482.6" y="504.7" font-size="6.6" text-anchor="start" font-weight="normal" fill="#222" style="stroke:none">CD56+(NK)</text>
</svg>
</body></html>
